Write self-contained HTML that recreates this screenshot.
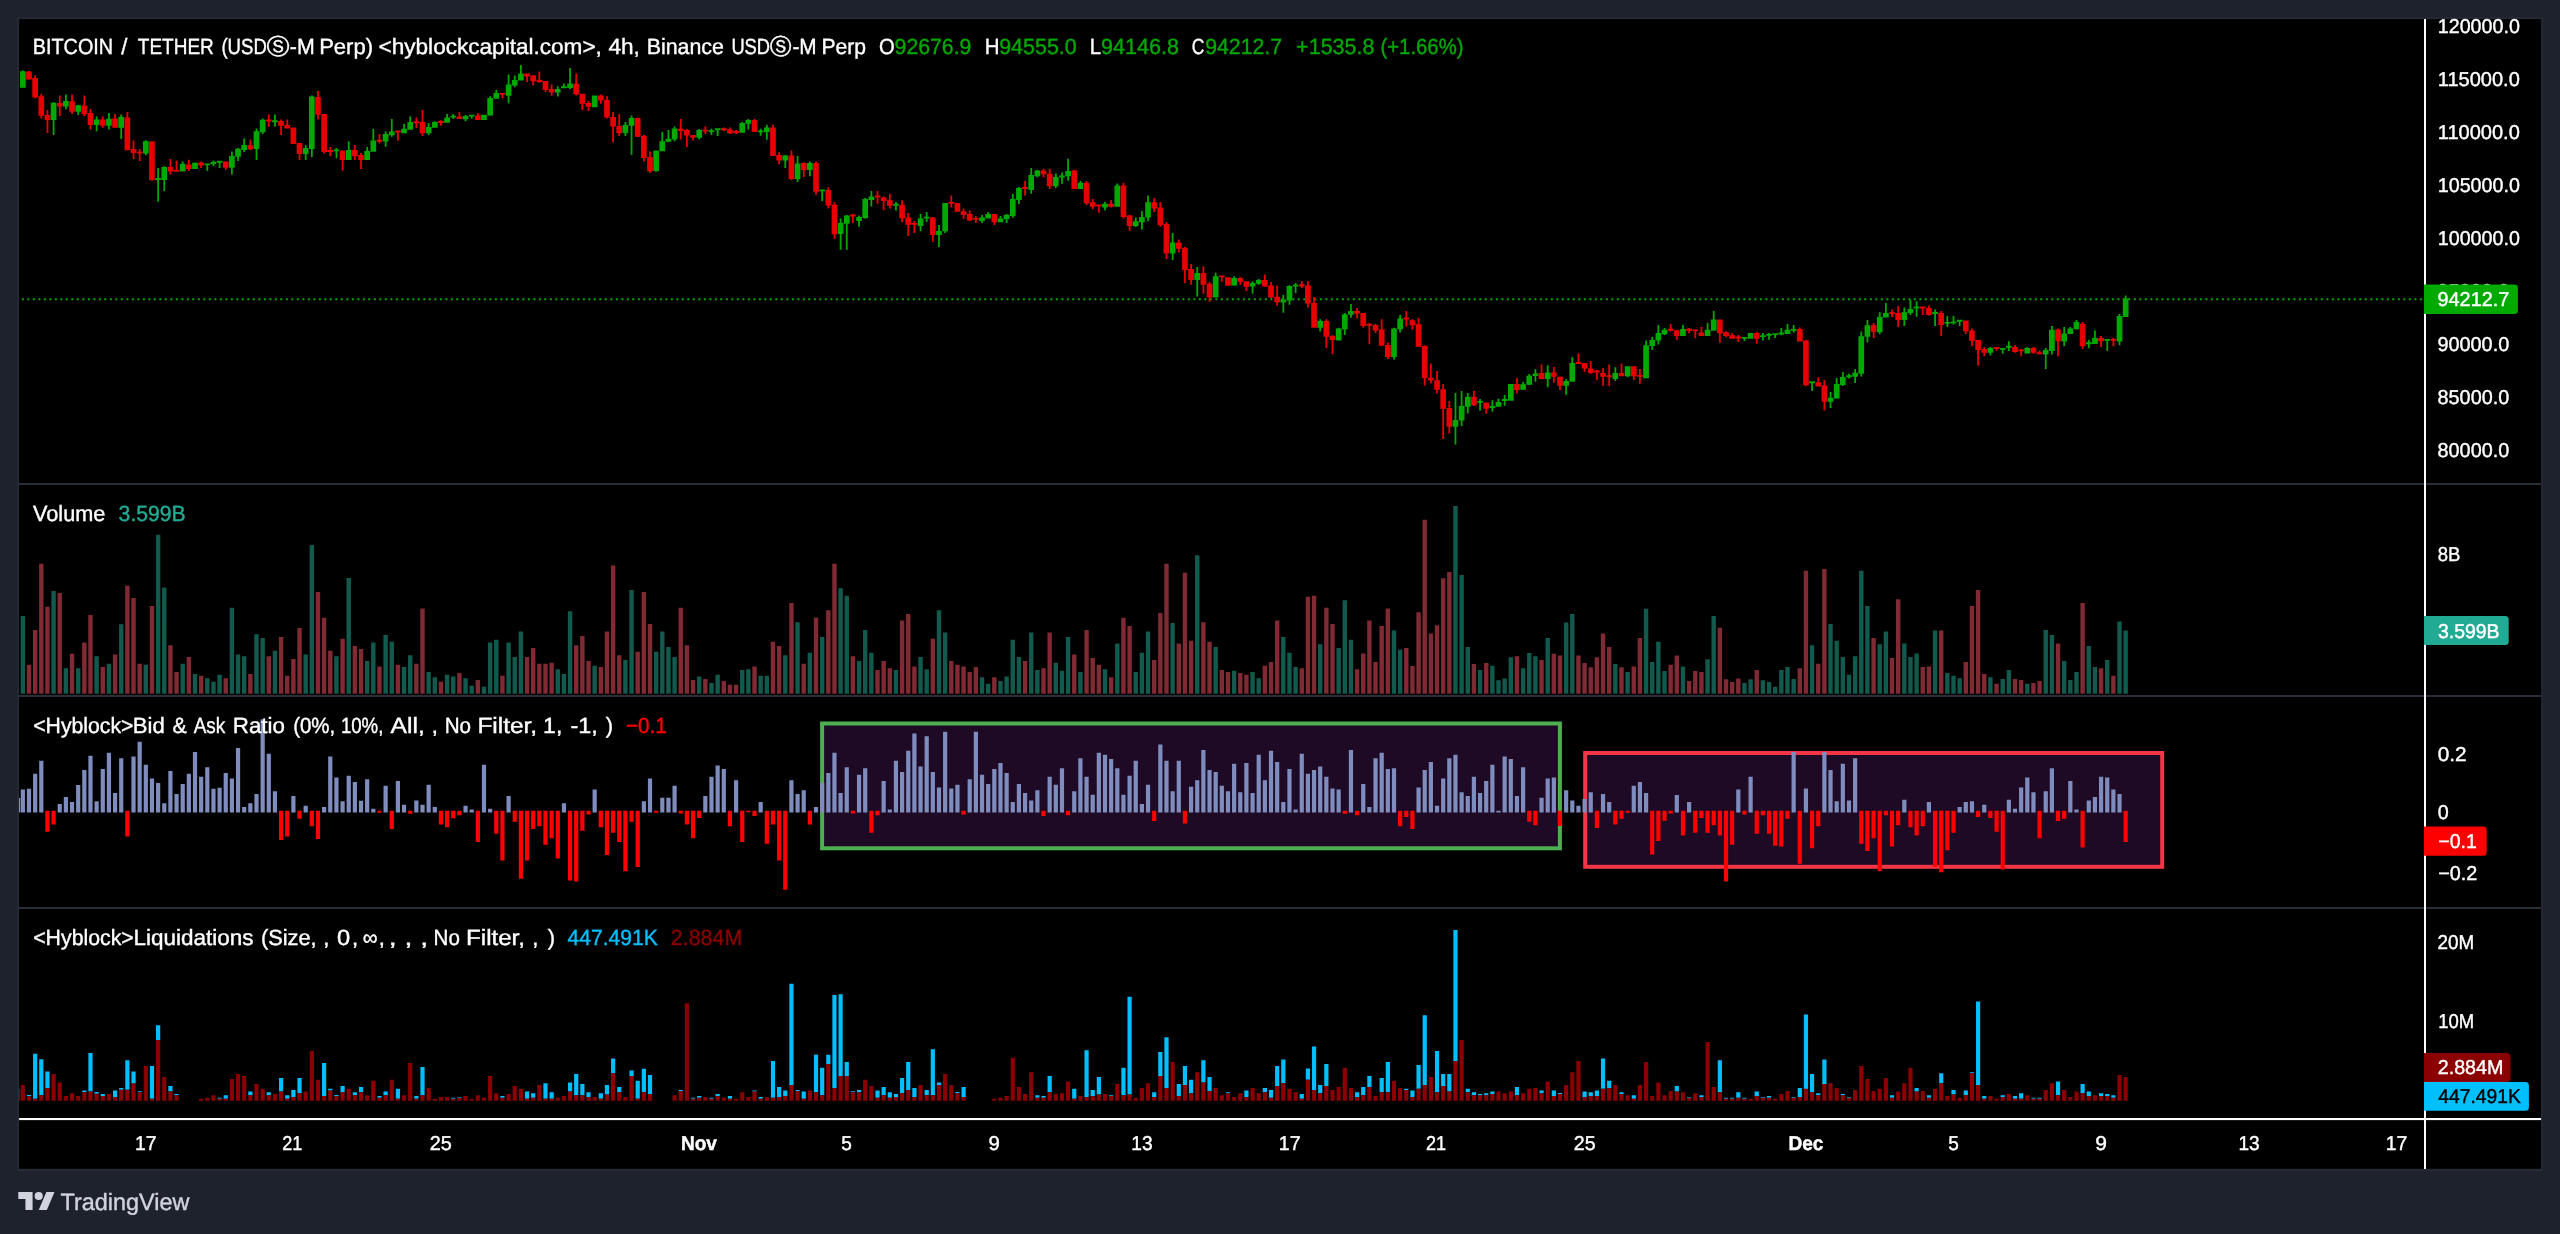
<!DOCTYPE html>
<html lang="en">
<head>
<meta charset="utf-8">
<title>BTCUSDT.P 4h - TradingView</title>
<style>
html,body{margin:0;padding:0;background:#1e222d;}
body{width:2560px;height:1234px;overflow:hidden;position:relative;}
svg{position:absolute;left:0;top:0;display:block;will-change:transform;}
text{font-family:'Liberation Sans','DejaVu Sans',sans-serif;white-space:pre;stroke-width:0.4px;text-rendering:geometricPrecision;}
</style>
</head>
<body>
<svg width="2560" height="1234" viewBox="0 0 2560 1234" shape-rendering="auto">
<rect x="17.3" y="17.3" width="2525.5" height="1153.7" fill="#262a36"/>
<rect x="19.1" y="19.1" width="2522" height="1149.7" fill="#000"/>
<rect x="822.1" y="723.5" width="737.8" height="124.8" fill="#1f0a26" stroke="#4caf50" stroke-width="4"/>
<rect x="1585.2" y="753" width="577" height="113.8" fill="#1f0a26" stroke="#f23645" stroke-width="4"/>
<line x1="21.85" y1="299.3" x2="2424" y2="299.3" stroke="#00a800" stroke-width="2" stroke-dasharray="2 3.5"/>
<g id="candles">
<path fill="#00a800" d="M21.95 70.62v17.12h1.8v-17.12zM52.69 102.25v32.75h1.8v-32.75zM64.99 94.38v14.75h1.8v-14.75zM77.29 104.75v10.25h1.8v-10.25zM95.73 116.62v14.62h1.8v-14.62zM108.03 113.12v16.5h1.8v-16.5zM120.33 114.62v24.38h1.8v-24.38zM144.92 140.25v15h1.8v-15zM157.22 168.12v33.75h1.8v-33.75zM163.37 166.25v24.75h1.8v-24.75zM181.81 161.62v10h1.8v-10zM194.11 162.5v6.5h1.8v-6.5zM206.41 163.5v7.5h1.8v-7.5zM212.56 160.62v5.62h1.8v-5.62zM218.71 161v7.12h1.8v-7.12zM231 151.5v23.12h1.8v-23.12zM237.15 147.88v13.12h1.8v-13.12zM243.3 138.5v13.38h1.8v-13.38zM255.6 128.5v31.5h1.8v-31.5zM261.75 118.38v15.62h1.8v-15.62zM274.04 114.62v12.25h1.8v-12.25zM304.79 145.25v14.75h1.8v-14.75zM310.93 95.38v61.5h1.8v-61.5zM335.53 147.88v10.25h1.8v-10.25zM347.83 141.25v18.75h1.8v-18.75zM366.27 146.88v13.12h1.8v-13.12zM372.42 129.12v22.75h1.8v-22.75zM384.72 131.25v15.62h1.8v-15.62zM390.87 119.12v17.75h1.8v-17.75zM403.16 124v9.12h1.8v-9.12zM409.31 116.62v13h1.8v-13zM427.76 123.12v11.88h1.8v-11.88zM433.91 121.25v6.5h1.8v-6.5zM446.2 114v8.75h1.8v-8.75zM452.35 114v4.75h1.8v-4.75zM464.65 115v6.25h1.8v-6.25zM470.8 115v3.5h1.8v-3.5zM483.1 114.75v5.25h1.8v-5.25zM489.24 96.25v19.38h1.8v-19.38zM495.39 90v8.75h1.8v-8.75zM507.69 74.38v28.75h1.8v-28.75zM513.84 75.38v11.75h1.8v-11.75zM519.99 65v15.62h1.8v-15.62zM556.88 86.25v10.25h1.8v-10.25zM563.03 83.5v4.62h1.8v-4.62zM569.18 67.88v21.12h1.8v-21.12zM593.77 95.62v11.62h1.8v-11.62zM624.51 122.12v13.88h1.8v-13.88zM630.66 115.62v39.38h1.8v-39.38zM655.26 150.62v21.25h1.8v-21.25zM661.4 131.88v19.38h1.8v-19.38zM667.55 130v11.88h1.8v-11.88zM673.7 126.5v14.75h1.8v-14.75zM698.3 129v10.38h1.8v-10.38zM710.59 128.75v6.25h1.8v-6.25zM716.74 128.5v7.38h1.8v-7.38zM741.34 121.88v10.88h1.8v-10.88zM747.48 119v10.38h1.8v-10.38zM759.78 128.75v7.12h1.8v-7.12zM765.93 124.75v14.88h1.8v-14.88zM784.38 155v12.88h1.8v-12.88zM796.67 156v25.88h1.8v-25.88zM808.97 161.5v14.75h1.8v-14.75zM821.27 189.38v11.62h1.8v-11.62zM839.71 218.5v31.25h1.8v-31.25zM845.86 215v34.75h1.8v-34.75zM858.16 215.62v11.25h1.8v-11.25zM864.31 198.12v20.62h1.8v-20.62zM870.46 191v15.62h1.8v-15.62zM895.05 201.88v8.5h1.8v-8.5zM919.65 214v17.25h1.8v-17.25zM925.79 212.12v10h1.8v-10zM938.09 225v21.88h1.8v-21.88zM944.24 203.12v30h1.8v-30zM981.13 215v8.12h1.8v-8.12zM987.28 212.12v6.38h1.8v-6.38zM999.58 216v6.25h1.8v-6.25zM1005.73 214v9.12h1.8v-9.12zM1011.87 193.75v24.12h1.8v-24.12zM1018.02 187.12v16.88h1.8v-16.88zM1030.32 167.88v25.88h1.8v-25.88zM1036.47 169.75v7.5h1.8v-7.5zM1054.91 173.5v14.62h1.8v-14.62zM1061.06 172.5v11.25h1.8v-11.25zM1067.21 158.75v22.12h1.8v-22.12zM1079.51 181v8h1.8v-8zM1104.1 201.88v8.38h1.8v-8.38zM1116.4 183.5v23.12h1.8v-23.12zM1134.85 217.5v9.38h1.8v-9.38zM1141 211v18.62h1.8v-18.62zM1147.14 195.62v25.62h1.8v-25.62zM1171.74 233.12v26.88h1.8v-26.88zM1196.33 267.12v29.38h1.8v-29.38zM1214.78 272.75v24.75h1.8v-24.75zM1233.22 276.25v9.38h1.8v-9.38zM1251.67 281.25v12.5h1.8v-12.5zM1257.82 279.12v5.62h1.8v-5.62zM1282.41 294.88v17.75h1.8v-17.75zM1288.56 285.25v19.62h1.8v-19.62zM1294.71 283v10h1.8v-10zM1319.3 319.25v12.25h1.8v-12.25zM1337.75 327.75v12.75h1.8v-12.75zM1343.9 313v21.88h1.8v-21.88zM1350.05 304v13.75h1.8v-13.75zM1393.09 327.75v32.12h1.8v-32.12zM1399.24 314.88v17.5h1.8v-17.5zM1454.57 393v51.5h1.8v-51.5zM1460.72 391.12v34.88h1.8v-34.88zM1466.87 393v20.62h1.8v-20.62zM1479.17 399v11.5h1.8v-11.5zM1491.47 400.25v11.5h1.8v-11.5zM1497.61 398.62v8.12h1.8v-8.12zM1503.76 394.88v10.88h1.8v-10.88zM1509.91 384v16.75h1.8v-16.75zM1522.21 382v7.88h1.8v-7.88zM1528.36 374v10.88h1.8v-10.88zM1534.51 369.25v12.5h1.8v-12.5zM1546.8 365.25v22.12h1.8v-22.12zM1565.25 379.25v15.62h1.8v-15.62zM1571.4 357.12v24.62h1.8v-24.62zM1614.44 367.25v13.75h1.8v-13.75zM1626.73 366.25v11h1.8v-11zM1645.18 340.62v37.5h1.8v-37.5zM1651.33 336.88v13.12h1.8v-13.12zM1657.48 325v19.38h1.8v-19.38zM1663.63 328.12v6.88h1.8v-6.88zM1682.07 325v11h1.8v-11zM1706.67 323.12v12.88h1.8v-12.88zM1712.81 311v19.62h1.8v-19.62zM1743.56 337.25v3.75h1.8v-3.75zM1749.71 333.12v5.62h1.8v-5.62zM1762 333.12v7.5h1.8v-7.5zM1768.15 333.12v6.62h1.8v-6.62zM1774.3 333.5v4.62h1.8v-4.62zM1780.45 327.88v7.38h1.8v-7.38zM1786.6 324v10h1.8v-10zM1792.75 325v7.5h1.8v-7.5zM1811.19 381.25v9.75h1.8v-9.75zM1829.64 391.88v16h1.8v-16zM1835.79 378.12v20.38h1.8v-20.38zM1841.94 371.88v14.12h1.8v-14.12zM1848.08 373.75v4.75h1.8v-4.75zM1854.23 369v14.12h1.8v-14.12zM1860.38 331.5v45h1.8v-45zM1866.53 320v22.5h1.8v-22.5zM1878.83 312.25v22.12h1.8v-22.12zM1884.98 303.12v14.38h1.8v-14.38zM1903.42 307.5v18.5h1.8v-18.5zM1909.57 300v15h1.8v-15zM1915.72 301.25v15.62h1.8v-15.62zM1934.16 309.38v16.62h1.8v-16.62zM1946.46 316v10.88h1.8v-10.88zM1952.61 316v8.38h1.8v-8.38zM1958.76 320v6h1.8v-6zM1989.5 346.88v8.38h1.8v-8.38zM2001.8 348.12v5.62h1.8v-5.62zM2007.95 341.25v9.75h1.8v-9.75zM2026.39 346.88v6.62h1.8v-6.62zM2044.84 348.12v20.88h1.8v-20.88zM2050.99 326v28.38h1.8v-28.38zM2063.29 326.88v19.38h1.8v-19.38zM2069.43 326.88v7.12h1.8v-7.12zM2075.58 320v9.38h1.8v-9.38zM2087.88 339.75v8.38h1.8v-8.38zM2094.03 330.62v13.38h1.8v-13.38zM2106.33 339v12h1.8v-12zM2118.62 314v31.25h1.8v-31.25zM2124.77 295.62v21.25h1.8v-21.25zM20 71.25v16.5h5.7v-16.5zM50.74 102.75v17.25h5.7v-17.25zM63.04 101v5.5h5.7v-5.5zM75.34 105.25v6.62h5.7v-6.62zM93.78 119.38v5.62h5.7v-5.62zM106.08 118.75v6.88h5.7v-6.88zM118.38 116.88v10.88h5.7v-10.88zM142.97 141.25v12.25h5.7v-12.25zM155.27 177.88v2.12h5.7v-2.12zM161.42 166.88v13.12h5.7v-13.12zM179.86 164v7.62h5.7v-7.62zM192.16 162.75v6.25h5.7v-6.25zM204.46 163.47v1.8h5.7v-1.8zM210.61 162.1v1.8h5.7v-1.8zM216.76 160.85v1.8h5.7v-1.8zM229.05 156v11.75h5.7v-11.75zM235.2 148.75v8.12h5.7v-8.12zM241.35 145v5h5.7v-5zM253.65 131.25v17.75h5.7v-17.75zM259.8 119.75v12.5h5.7v-12.5zM272.09 120.35v1.8h5.7v-1.8zM302.84 148.12v5.88h5.7v-5.88zM308.98 96.5v52.5h5.7v-52.5zM333.58 149.38v1.88h5.7v-1.88zM345.88 150v10h5.7v-10zM364.32 151v9h5.7v-9zM370.47 140.62v11.25h5.7v-11.25zM382.77 134v7.62h5.7v-7.62zM388.92 131.5v3.75h5.7v-3.75zM401.21 128.75v4.38h5.7v-4.38zM407.36 121.88v7.75h5.7v-7.75zM425.81 126.88v6.25h5.7v-6.25zM431.96 121.88v5.88h5.7v-5.88zM444.25 117.5v5.25h5.7v-5.25zM450.4 115.79v1.8h5.7v-1.8zM462.7 115.88v3.25h5.7v-3.25zM468.85 114.72v1.8h5.7v-1.8zM481.14 114.75v5.25h5.7v-5.25zM487.29 98.12v17.5h5.7v-17.5zM493.44 93.12v5.62h5.7v-5.62zM505.74 84.38v11.25h5.7v-11.25zM511.89 80v5.38h5.7v-5.38zM518.04 73.5v7.12h5.7v-7.12zM554.93 89v3.5h5.7v-3.5zM561.08 86.25v1.88h5.7v-1.88zM567.23 83.5v4.62h5.7v-4.62zM591.82 95.62v11.62h5.7v-11.62zM622.56 125v8.12h5.7v-8.12zM628.71 118.12v7.75h5.7v-7.75zM653.31 150.62v20.38h5.7v-20.38zM659.45 141.25v10h5.7v-10zM665.6 138.75v3.12h5.7v-3.12zM671.75 128.5v10.88h5.7v-10.88zM696.35 130v7.75h5.7v-7.75zM708.64 130.22v1.8h5.7v-1.8zM714.79 128.35v1.8h5.7v-1.8zM739.39 123.12v9.62h5.7v-9.62zM745.53 120v3.75h5.7v-3.75zM757.83 130.38v1.88h5.7v-1.88zM763.98 127.5v4.38h5.7v-4.38zM782.43 155.62v5h5.7v-5zM794.72 163.5v15.62h5.7v-15.62zM807.02 163.12v6.88h5.7v-6.88zM819.32 189.38v1.88h5.7v-1.88zM837.76 223.12v11h5.7v-11zM843.91 215.62v8.12h5.7v-8.12zM856.21 216.88v4h5.7v-4zM862.36 199v19.12h5.7v-19.12zM868.51 196.62v3.38h5.7v-3.38zM893.1 203.75v1.88h5.7v-1.88zM917.7 218.5v7.38h5.7v-7.38zM923.84 216.79v1.8h5.7v-1.8zM936.14 231v4h5.7v-4zM942.29 203.12v28.12h5.7v-28.12zM979.18 217.5v3.5h5.7v-3.5zM985.33 214v4.5h5.7v-4.5zM997.63 218.5v3.75h5.7v-3.75zM1003.78 214.75v4.38h5.7v-4.38zM1009.92 199v17h5.7v-17zM1016.07 187.88v12.12h5.7v-12.12zM1028.37 175v15h5.7v-15zM1034.52 170.62v5.62h5.7v-5.62zM1052.96 176.88v9.38h5.7v-9.38zM1059.11 175.38v2.12h5.7v-2.12zM1065.26 171v5.25h5.7v-5.25zM1077.56 182.75v6.25h5.7v-6.25zM1102.15 203.75v3.75h5.7v-3.75zM1114.45 185.38v21.25h5.7v-21.25zM1132.9 221.25v4.75h5.7v-4.75zM1139.05 216.88v5.38h5.7v-5.38zM1145.19 202.25v15.25h5.7v-15.25zM1169.79 242.5v10.88h5.7v-10.88zM1194.38 273.12v6.88h5.7v-6.88zM1212.83 276.25v21.25h5.7v-21.25zM1231.27 278.12v7.5h5.7v-7.5zM1249.72 283.12v3.5h5.7v-3.5zM1255.87 280v3.75h5.7v-3.75zM1280.46 299.5v2.88h5.7v-2.88zM1286.61 286.12v14.38h5.7v-14.38zM1292.76 284.79v1.8h5.7v-1.8zM1317.35 321.12v6.62h5.7v-6.62zM1335.8 328.62v11.88h5.7v-11.88zM1341.95 314.25v15h5.7v-15zM1348.1 311.12v3.75h5.7v-3.75zM1391.14 328.62v28.38h5.7v-28.38zM1397.29 318.62v10.62h5.7v-10.62zM1452.62 419.88v6.88h5.7v-6.88zM1458.77 406.12v14.38h5.7v-14.38zM1464.92 396.75v10h5.7v-10zM1477.22 401.04v1.8h5.7v-1.8zM1489.52 406.12v1.88h5.7v-1.88zM1495.66 402.12v4.62h5.7v-4.62zM1501.81 399.1v1.8h5.7v-1.8zM1507.96 384v16.75h5.7v-16.75zM1520.26 384.25v5.62h5.7v-5.62zM1526.41 375.75v9.12h5.7v-9.12zM1532.56 373.62v2.5h5.7v-2.5zM1544.85 372.38v6.62h5.7v-6.62zM1563.3 381.12v4.62h5.7v-4.62zM1569.45 363v18.75h5.7v-18.75zM1612.49 373.12v5.88h5.7v-5.88zM1624.78 366.25v10h5.7v-10zM1643.23 345.25v32.88h5.7v-32.88zM1649.38 340v5.88h5.7v-5.88zM1655.53 333.12v7.5h5.7v-7.5zM1661.68 329.75v4.62h5.7v-4.62zM1680.12 329.12v6.88h5.7v-6.88zM1704.72 329.75v6.25h5.7v-6.25zM1710.87 319.38v11.25h5.7v-11.25zM1741.61 336.98v1.8h5.7v-1.8zM1747.76 333.12v5.62h5.7v-5.62zM1760.05 335.16v1.8h5.7v-1.8zM1766.2 333.91v1.8h5.7v-1.8zM1772.35 333.23v1.8h5.7v-1.8zM1778.5 332.5v1.88h5.7v-1.88zM1784.65 329.75v4.25h5.7v-4.25zM1790.8 328.98v1.8h5.7v-1.8zM1809.24 381.25v1.88h5.7v-1.88zM1827.69 397.75v4.12h5.7v-4.12zM1833.84 384v14.5h5.7v-14.5zM1839.99 376.88v8.12h5.7v-8.12zM1846.13 375.25v2h5.7v-2zM1852.28 372.75v4.12h5.7v-4.12zM1858.43 336.25v37.5h5.7v-37.5zM1864.58 325.25v11.62h5.7v-11.62zM1876.88 316.88v15.38h5.7v-15.38zM1883.03 313.12v4.38h5.7v-4.38zM1901.47 312.25v7.75h5.7v-7.75zM1907.62 309v4.12h5.7v-4.12zM1913.77 306.6v1.8h5.7v-1.8zM1932.21 312.1v1.8h5.7v-1.8zM1944.51 322.04v1.8h5.7v-1.8zM1950.66 321.41v1.8h5.7v-1.8zM1956.81 319.85v1.8h5.7v-1.8zM1987.55 348.12v4.62h5.7v-4.62zM1999.85 348.04v1.8h5.7v-1.8zM2006 345.85v1.8h5.7v-1.8zM2024.44 348.12v5.38h5.7v-5.38zM2042.89 350v4.38h5.7v-4.38zM2049.04 329.75v21.25h5.7v-21.25zM2061.34 333.5v8h5.7v-8zM2067.48 328.5v5.5h5.7v-5.5zM2073.63 322.12v7.25h5.7v-7.25zM2085.93 342.35v1.8h5.7v-1.8zM2092.08 338.12v5.88h5.7v-5.88zM2104.38 338.91v1.8h5.7v-1.8zM2116.67 316v25.5h5.7v-25.5zM2122.82 298.38v18.5h5.7v-18.5z"/>
<path fill="#e60000" d="M28.1 71v8.75h1.8v-8.75zM34.25 75.25v22.88h1.8v-22.88zM40.4 93.75v24.75h1.8v-24.75zM46.54 110v23.12h1.8v-23.12zM58.84 95.38v20.5h1.8v-20.5zM71.14 94.38v19.62h1.8v-19.62zM83.44 95.38v20.5h1.8v-20.5zM89.58 109.12v20.5h1.8v-20.5zM101.88 116.62v11.25h1.8v-11.25zM114.18 114v13.75h1.8v-13.75zM126.48 112.12v38.5h1.8v-38.5zM132.62 140.62v18.38h1.8v-18.38zM138.77 149v12h1.8v-12zM151.07 141.25v39.62h1.8v-39.62zM169.52 159v15.62h1.8v-15.62zM175.66 160.62v11h1.8v-11zM187.96 159.75v11.25h1.8v-11.25zM200.26 161.5v6.62h1.8v-6.62zM224.85 161.5v8.5h1.8v-8.5zM249.45 139.62v10.38h1.8v-10.38zM267.89 114.62v12.25h1.8v-12.25zM280.19 119.38v15.62h1.8v-15.62zM286.34 119.38v9.12h1.8v-9.12zM292.49 127.5v16.5h1.8v-16.5zM298.64 143.12v16.88h1.8v-16.88zM317.08 91v28.38h1.8v-28.38zM323.23 114v39.5h1.8v-39.5zM329.38 147.12v9.12h1.8v-9.12zM341.68 150.62v20.25h1.8v-20.25zM353.97 145v15h1.8v-15zM360.12 153.12v15.88h1.8v-15.88zM378.57 134v9.5h1.8v-9.5zM397.01 130.62v10.25h1.8v-10.25zM415.46 117.5v10.38h1.8v-10.38zM421.61 110v26h1.8v-26zM440.05 120.25v5.62h1.8v-5.62zM458.5 112.12v7h1.8v-7zM476.95 113.12v6.88h1.8v-6.88zM501.54 93.12v5h1.8v-5zM526.14 73.5v8.38h1.8v-8.38zM532.28 75v10.38h1.8v-10.38zM538.43 71.5v11.25h1.8v-11.25zM544.58 81v10.88h1.8v-10.88zM550.73 84.38v11.25h1.8v-11.25zM575.32 73.5v22.12h1.8v-22.12zM581.47 93.75v16.25h1.8v-16.25zM587.62 101v10h1.8v-10zM599.92 94.38v9.38h1.8v-9.38zM606.07 96.25v22.25h1.8v-22.25zM612.22 112.12v30.38h1.8v-30.38zM618.36 114v22h1.8v-22zM636.81 117.5v19.38h1.8v-19.38zM642.96 135v26.62h1.8v-26.62zM649.11 151.62v21.12h1.8v-21.12zM679.85 119v20.38h1.8v-20.38zM686 129v17.88h1.8v-17.88zM692.15 135v5.38h1.8v-5.38zM704.44 126.5v7.5h1.8v-7.5zM722.89 127.5v3.5h1.8v-3.5zM729.04 127.5v6.5h1.8v-6.5zM735.19 130v4h1.8v-4zM753.63 119v12.88h1.8v-12.88zM772.08 124.75v31.12h1.8v-31.12zM778.23 152.25v12.12h1.8v-12.12zM790.53 150.62v29.38h1.8v-29.38zM802.82 162.5v14.62h1.8v-14.62zM815.12 161.5v33.25h1.8v-33.25zM827.42 187.25v21.25h1.8v-21.25zM833.57 202.25v36.5h1.8v-36.5zM852.01 214v8.88h1.8v-8.88zM876.61 191v12.75h1.8v-12.75zM882.75 196.62v13.75h1.8v-13.75zM888.9 193.75v14.75h1.8v-14.75zM901.2 200.25v21.88h1.8v-21.88zM907.35 213.12v22.88h1.8v-22.88zM913.5 221v12.12h1.8v-12.12zM931.94 216.88v24.75h1.8v-24.75zM950.39 195.62v11.88h1.8v-11.88zM956.54 203.12v8.75h1.8v-8.75zM962.69 208.5v10.25h1.8v-10.25zM968.83 210.38v10.88h1.8v-10.88zM974.98 216v7.12h1.8v-7.12zM993.43 214v11h1.8v-11zM1024.17 181v14.62h1.8v-14.62zM1042.62 168.75v8.5h1.8v-8.5zM1048.77 168.75v20.25h1.8v-20.25zM1073.36 169.75v19.25h1.8v-19.25zM1085.66 181v24h1.8v-24zM1091.81 199.12v10.25h1.8v-10.25zM1097.95 204.62v8.25h1.8v-8.25zM1110.25 200v7.5h1.8v-7.5zM1122.55 182.75v35.75h1.8v-35.75zM1128.7 214.75v15.88h1.8v-15.88zM1153.29 198.12v14h1.8v-14zM1159.44 202.12v24.75h1.8v-24.75zM1165.59 222.12v36.88h1.8v-36.88zM1177.89 239.62v12.88h1.8v-12.88zM1184.04 246.88v36h1.8v-36zM1190.18 264.12v20.62h1.8v-20.62zM1202.48 266.25v27.5h1.8v-27.5zM1208.63 281.88v20h1.8v-20zM1220.93 275.62v6.25h1.8v-6.25zM1227.08 277.25v8.38h1.8v-8.38zM1239.37 277.25v7.5h1.8v-7.5zM1245.52 281.25v9.75h1.8v-9.75zM1263.97 274.38v12.25h1.8v-12.25zM1270.12 282v16h1.8v-16zM1276.26 285.5v20.25h1.8v-20.25zM1300.86 281.12v6.88h1.8v-6.88zM1307.01 281.12v26.5h1.8v-26.5zM1313.16 297v30.75h1.8v-30.75zM1325.45 319.25v28.75h1.8v-28.75zM1331.6 334.88v19.38h1.8v-19.38zM1356.2 308v10.62h1.8v-10.62zM1362.34 313v14.75h1.8v-14.75zM1368.49 323v21.25h1.8v-21.25zM1374.64 324v9h1.8v-9zM1380.79 319.25v26.62h1.8v-26.62zM1386.94 342.38v16.62h1.8v-16.62zM1405.38 311.12v15.62h1.8v-15.62zM1411.53 319.25v10.38h1.8v-10.38zM1417.68 317.75v29h1.8v-29zM1423.83 345.25v40.25h1.8v-40.25zM1429.98 363.62v20h1.8v-20zM1436.13 371.12v22.5h1.8v-22.5zM1442.28 384v55h1.8v-55zM1448.43 401.12v32.38h1.8v-32.38zM1473.02 391.12v15h1.8v-15zM1485.32 402.38v11.25h1.8v-11.25zM1516.06 378v15.62h1.8v-15.62zM1540.65 364.5v14.5h1.8v-14.5zM1552.95 367.12v15.62h1.8v-15.62zM1559.1 376.5v13.38h1.8v-13.38zM1577.55 353.25v10.38h1.8v-10.38zM1583.69 363v8.75h1.8v-8.75zM1589.84 361v12.75h1.8v-12.75zM1595.99 370v10h1.8v-10zM1602.14 368.12v17.88h1.8v-17.88zM1608.29 364.38v21.62h1.8v-21.62zM1620.59 363.5v12.75h1.8v-12.75zM1632.88 366.25v13.75h1.8v-13.75zM1639.03 369v14.75h1.8v-14.75zM1669.77 324v7.5h1.8v-7.5zM1675.92 329.75v10.25h1.8v-10.25zM1688.22 327.88v5.25h1.8v-5.25zM1694.37 329.75v8.38h1.8v-8.38zM1700.52 326.88v9.12h1.8v-9.12zM1718.96 319.38v23.38h1.8v-23.38zM1725.11 331.25v6h1.8v-6zM1731.26 333.12v5.62h1.8v-5.62zM1737.41 335v6.88h1.8v-6.88zM1755.86 332.25v11.5h1.8v-11.5zM1798.9 327.5v14h1.8v-14zM1805.04 339.75v46.25h1.8v-46.25zM1817.34 377.25v9.25h1.8v-9.25zM1823.49 380v30.62h1.8v-30.62zM1872.68 323.12v15h1.8v-15zM1891.12 309.38v7.5h1.8v-7.5zM1897.27 306v21.12h1.8v-21.12zM1921.87 306.88v8.12h1.8v-8.12zM1928.02 305.62v10h1.8v-10zM1940.31 311v25h1.8v-25zM1964.91 320.38v13.62h1.8v-13.62zM1971.06 328.5v17.75h1.8v-17.75zM1977.2 340v25.62h1.8v-25.62zM1983.35 347.25v9h1.8v-9zM1995.65 347.25v3.38h1.8v-3.38zM2014.1 345v7.75h1.8v-7.75zM2020.24 349v7.25h1.8v-7.25zM2032.54 346.88v6.88h1.8v-6.88zM2038.69 350.62v3.75h1.8v-3.75zM2057.14 328.5v27.75h1.8v-27.75zM2081.73 322.12v26.88h1.8v-26.88zM2100.18 336v10.88h1.8v-10.88zM2112.47 337.75v8.5h1.8v-8.5zM26.15 71.5v7.88h5.7v-7.88zM32.3 78.12v19.38h5.7v-19.38zM38.45 96.25v19.38h5.7v-19.38zM44.59 115v5h5.7v-5zM56.89 103.12v3.38h5.7v-3.38zM69.19 101.25v10.62h5.7v-10.62zM81.49 105.62v8.75h5.7v-8.75zM87.63 113.12v11.88h5.7v-11.88zM99.93 119.38v6.25h5.7v-6.25zM112.23 118.5v9.25h5.7v-9.25zM124.53 117.5v32.5h5.7v-32.5zM130.67 149v4.12h5.7v-4.12zM136.82 151.79v1.8h5.7v-1.8zM149.12 141.25v38.75h5.7v-38.75zM167.57 167.12v4.5h5.7v-4.5zM173.72 169.91v1.8h5.7v-1.8zM186.01 164.38v4.62h5.7v-4.62zM198.31 162.5v3.12h5.7v-3.12zM222.9 161.5v6.25h5.7v-6.25zM247.5 145.25v4.12h5.7v-4.12zM265.94 119.6v1.8h5.7v-1.8zM278.24 120.88v4.75h5.7v-4.75zM284.39 125v3.5h5.7v-3.5zM290.54 127.5v16.5h5.7v-16.5zM296.69 143.12v10.88h5.7v-10.88zM315.13 96.88v17.75h5.7v-17.75zM321.28 114v37.88h5.7v-37.88zM327.43 150v1.88h5.7v-1.88zM339.73 150.62v9.38h5.7v-9.38zM352.02 150v6.25h5.7v-6.25zM358.17 155v5h5.7v-5zM376.62 139.75v2.12h5.7v-2.12zM395.06 130.62v1.88h5.7v-1.88zM413.51 121.25v1.88h5.7v-1.88zM419.66 121.88v11.25h5.7v-11.25zM438.1 121.1v1.8h5.7v-1.8zM456.55 116.62v2.5h5.7v-2.5zM475 115.62v4.38h5.7v-4.38zM499.59 93.04v1.8h5.7v-1.8zM524.19 73.5v3.12h5.7v-3.12zM530.33 75.62v5.62h5.7v-5.62zM536.48 80v1.88h5.7v-1.88zM542.63 81v9h5.7v-9zM548.78 89v3.5h5.7v-3.5zM573.37 83.75v10.62h5.7v-10.62zM579.52 93.75v10h5.7v-10zM585.67 103.12v3.75h5.7v-3.75zM597.97 95.62v5h5.7v-5zM604.12 100v17.5h5.7v-17.5zM610.27 116.88v9.62h5.7v-9.62zM616.41 125.88v7.25h5.7v-7.25zM634.86 118.12v18.75h5.7v-18.75zM641.01 136v22.12h5.7v-22.12zM647.16 157.12v14.12h5.7v-14.12zM677.9 128.75v2.25h5.7v-2.25zM684.05 130v5.62h5.7v-5.62zM690.2 135v2.75h5.7v-2.75zM702.49 129.72v1.8h5.7v-1.8zM720.94 128.35v1.8h5.7v-1.8zM727.09 129.38v3.75h5.7v-3.75zM733.24 131.1v1.8h5.7v-1.8zM751.68 120v11.88h5.7v-11.88zM770.13 127.5v28.38h5.7v-28.38zM776.28 155v5.62h5.7v-5.62zM788.58 155.62v23.5h5.7v-23.5zM800.87 163.12v6.88h5.7v-6.88zM813.17 163.12v28.75h5.7v-28.75zM825.47 190v15.62h5.7v-15.62zM831.62 204.75v29.38h5.7v-29.38zM850.06 214.6v1.8h5.7v-1.8zM874.66 195.62v1.88h5.7v-1.88zM880.8 197.5v3.5h5.7v-3.5zM886.95 200.25v5.38h5.7v-5.38zM899.25 204.75v13.38h5.7v-13.38zM905.4 217.5v7.25h5.7v-7.25zM911.55 223.04v1.8h5.7v-1.8zM929.99 217.5v17.5h5.7v-17.5zM948.44 201.88v1.88h5.7v-1.88zM954.59 203.12v8.75h5.7v-8.75zM960.74 211.25v3.75h5.7v-3.75zM966.88 214v6.62h5.7v-6.62zM973.03 218.04v1.8h5.7v-1.8zM991.48 214v8.25h5.7v-8.25zM1022.22 187.12v1.88h5.7v-1.88zM1040.67 170.62v3.75h5.7v-3.75zM1046.82 173.75v12.5h5.7v-12.5zM1071.41 170.62v18.38h5.7v-18.38zM1083.71 182.75v20.38h5.7v-20.38zM1089.86 202.25v4.38h5.7v-4.38zM1096.01 204.54v1.8h5.7v-1.8zM1108.3 203.75v2.88h5.7v-2.88zM1120.6 185.38v31.5h5.7v-31.5zM1126.75 215.62v10.38h5.7v-10.38zM1151.34 202.25v6.25h5.7v-6.25zM1157.49 207.5v17.5h5.7v-17.5zM1163.64 224v29.38h5.7v-29.38zM1175.94 242.5v6.25h5.7v-6.25zM1182.09 248.12v21.88h5.7v-21.88zM1188.23 269v11h5.7v-11zM1200.53 273.12v11.62h5.7v-11.62zM1206.68 283.75v13.75h5.7v-13.75zM1218.98 275.54v1.8h5.7v-1.8zM1225.13 277.25v8.38h5.7v-8.38zM1237.42 278.12v3.75h5.7v-3.75zM1243.57 281.25v5.38h5.7v-5.38zM1262.02 280v6.62h5.7v-6.62zM1268.17 285.5v11.88h5.7v-11.88zM1274.31 296.75v5.62h5.7v-5.62zM1298.91 284.25v2.25h5.7v-2.25zM1305.06 285.5v18.12h5.7v-18.12zM1311.21 303v24.75h5.7v-24.75zM1323.5 321.12v15.62h5.7v-15.62zM1329.65 336.12v4h5.7v-4zM1354.25 310.75v2.88h5.7v-2.88zM1360.39 313v12.88h5.7v-12.88zM1366.54 323.85v1.8h5.7v-1.8zM1372.69 324.88v5.62h5.7v-5.62zM1378.84 329.62v16.25h5.7v-16.25zM1384.99 344.88v12.12h5.7v-12.12zM1403.43 317.6v1.8h5.7v-1.8zM1409.58 320.25v5h5.7v-5zM1415.73 324.25v22.5h5.7v-22.5zM1421.88 345.88v32.12h5.7v-32.12zM1428.03 377.75v2.75h5.7v-2.75zM1434.18 380.25v9.62h5.7v-9.62zM1440.33 389.25v19.38h5.7v-19.38zM1446.48 408v18.75h5.7v-18.75zM1471.07 396.75v8.5h5.7v-8.5zM1483.37 402.38v6.25h5.7v-6.25zM1514.11 384v5.88h5.7v-5.88zM1538.7 373v6h5.7v-6zM1551 372.38v4.38h5.7v-4.38zM1557.15 376.75v9h5.7v-9zM1575.6 362.1v1.8h5.7v-1.8zM1581.74 363v5.62h5.7v-5.62zM1587.89 368.5v4.62h5.7v-4.62zM1594.04 370.62v1.88h5.7v-1.88zM1600.19 373.12v3.75h5.7v-3.75zM1606.34 375.35v1.8h5.7v-1.8zM1618.64 373.12v3.12h5.7v-3.12zM1630.93 366.25v10h5.7v-10zM1637.08 374.91v1.8h5.7v-1.8zM1667.82 328.75v1.88h5.7v-1.88zM1673.97 330.25v5.75h5.7v-5.75zM1686.27 328.75v2.25h5.7v-2.25zM1692.42 329.48v1.8h5.7v-1.8zM1698.57 332.5v3.5h5.7v-3.5zM1717.01 319.38v13.75h5.7v-13.75zM1723.16 332.25v3.75h5.7v-3.75zM1729.31 335.25v3.5h5.7v-3.5zM1735.46 336.6v1.8h5.7v-1.8zM1753.91 333.12v5.62h5.7v-5.62zM1796.95 329v12.5h5.7v-12.5zM1803.09 340.62v44.62h5.7v-44.62zM1815.39 382.25v4.25h5.7v-4.25zM1821.54 385.62v16.25h5.7v-16.25zM1870.73 325.25v6.62h5.7v-6.62zM1889.17 312.23v1.8h5.7v-1.8zM1895.32 313.12v6.88h5.7v-6.88zM1919.92 306.6v1.8h5.7v-1.8zM1926.07 308.12v6.88h5.7v-6.88zM1938.36 313.12v11.88h5.7v-11.88zM1962.96 320.38v10.88h5.7v-10.88zM1969.11 330.38v10.25h5.7v-10.25zM1975.25 340v10h5.7v-10zM1981.4 349v3.75h5.7v-3.75zM1993.7 347.1v1.8h5.7v-1.8zM2012.15 346.88v5h5.7v-5zM2018.3 349.38v1.88h5.7v-1.88zM2030.59 348.12v4.62h5.7v-4.62zM2036.74 352.25v2.12h5.7v-2.12zM2055.19 329.38v11.88h5.7v-11.88zM2079.78 323.75v22.5h5.7v-22.5zM2098.23 338.12v3.12h5.7v-3.12zM2110.52 338.91v1.8h5.7v-1.8z"/>
</g>
<g id="volume">
<path fill="#115a4d" d="M20.65 615.91v77.89h4.4v-77.89zM51.39 590.96v102.84h4.4v-102.84zM63.69 668.13v25.67h4.4v-25.67zM75.99 668.13v25.67h4.4v-25.67zM94.43 656.3v37.5h4.4v-37.5zM106.73 663.8v30h4.4v-30zM119.03 624.13v69.67h4.4v-69.67zM143.62 664.66v29.14h4.4v-29.14zM155.92 534.85v158.95h4.4v-158.95zM162.07 587.5v106.3h4.4v-106.3zM180.51 663.8v30h4.4v-30zM192.81 673.9v19.9h4.4v-19.9zM205.11 678.22v15.58h4.4v-15.58zM211.26 681.83v11.97h4.4v-11.97zM217.41 674.76v19.04h4.4v-19.04zM229.7 607.83v85.97h4.4v-85.97zM235.85 654.42v39.38h4.4v-39.38zM242 656.3v37.5h4.4v-37.5zM254.3 634.23v59.57h4.4v-59.57zM260.45 637.98v55.82h4.4v-55.82zM272.74 650.82v42.98h4.4v-42.98zM303.49 654.42v39.38h4.4v-39.38zM309.63 544.95v148.85h4.4v-148.85zM334.23 656.15v37.65h4.4v-37.65zM346.53 578.12v115.68h4.4v-115.68zM364.97 660.91v32.89h4.4v-32.89zM371.12 642.6v51.2h4.4v-51.2zM383.42 635.1v58.7h4.4v-58.7zM389.57 641.87v51.93h4.4v-51.93zM401.86 667.12v26.68h4.4v-26.68zM408.01 655.29v38.51h4.4v-38.51zM426.46 671.88v21.92h4.4v-21.92zM432.61 677.36v16.44h4.4v-16.44zM444.9 674.76v19.04h4.4v-19.04zM451.05 676.49v17.31h4.4v-17.31zM463.35 678.22v15.58h4.4v-15.58zM469.5 685.87v7.93h4.4v-7.93zM481.8 686.73v7.07h4.4v-7.07zM487.94 642.6v51.2h4.4v-51.2zM494.09 639.86v53.94h4.4v-53.94zM506.39 642.6v51.2h4.4v-51.2zM512.54 657.02v36.78h4.4v-36.78zM518.69 631.49v62.31h4.4v-62.31zM555.58 669.14v24.66h4.4v-24.66zM561.73 673.9v19.9h4.4v-19.9zM567.88 611.15v82.65h4.4v-82.65zM592.47 665.67v28.13h4.4v-28.13zM623.21 659.9v33.9h4.4v-33.9zM629.36 590.09v103.71h4.4v-103.71zM653.96 651.68v42.12h4.4v-42.12zM660.1 631.49v62.31h4.4v-62.31zM666.25 647.07v46.73h4.4v-46.73zM672.4 657.02v36.78h4.4v-36.78zM697 676.49v17.31h4.4v-17.31zM709.29 682.98v10.82h4.4v-10.82zM715.44 674.76v19.04h4.4v-19.04zM740.04 670v23.8h4.4v-23.8zM746.18 669.14v24.66h4.4v-24.66zM758.48 675.63v18.17h4.4v-18.17zM764.63 675.63v18.17h4.4v-18.17zM783.08 655.29v38.51h4.4v-38.51zM795.37 622.26v71.54h4.4v-71.54zM807.67 652.69v41.11h4.4v-41.11zM819.97 636.97v56.83h4.4v-56.83zM838.41 588.22v105.58h4.4v-105.58zM844.56 595.72v98.08h4.4v-98.08zM856.86 660.91v32.89h4.4v-32.89zM863.01 629.9v63.9h4.4v-63.9zM869.16 652.69v41.11h4.4v-41.11zM893.75 670v23.8h4.4v-23.8zM918.35 657.02v36.78h4.4v-36.78zM924.49 669.14v24.66h4.4v-24.66zM936.79 610.29v83.51h4.4v-83.51zM942.94 632.5v61.3h4.4v-61.3zM979.83 677.36v16.44h4.4v-16.44zM985.98 683.85v9.95h4.4v-9.95zM998.28 680.96v12.84h4.4v-12.84zM1004.43 676.49v17.31h4.4v-17.31zM1010.57 639.86v53.94h4.4v-53.94zM1016.72 657.02v36.78h4.4v-36.78zM1029.02 632.5v61.3h4.4v-61.3zM1035.17 670v23.8h4.4v-23.8zM1053.61 662.79v31.01h4.4v-31.01zM1059.76 670.87v22.93h4.4v-22.93zM1065.91 636.97v56.83h4.4v-56.83zM1078.21 671.88v21.92h4.4v-21.92zM1102.8 669.14v24.66h4.4v-24.66zM1115.1 643.46v50.34h4.4v-50.34zM1133.55 671.88v21.92h4.4v-21.92zM1139.7 652.69v41.11h4.4v-41.11zM1145.84 631.49v62.31h4.4v-62.31zM1170.44 623.12v70.68h4.4v-70.68zM1195.03 555.19v138.61h4.4v-138.61zM1213.48 647.07v46.73h4.4v-46.73zM1231.92 670.87v22.93h4.4v-22.93zM1250.37 671.88v21.92h4.4v-21.92zM1256.52 678.22v15.58h4.4v-15.58zM1281.11 636.97v56.83h4.4v-56.83zM1287.26 652.69v41.11h4.4v-41.11zM1293.41 667.12v26.68h4.4v-26.68zM1318 644.33v49.47h4.4v-49.47zM1336.45 647.93v45.87h4.4v-45.87zM1342.6 600.19v93.61h4.4v-93.61zM1348.75 639.86v53.94h4.4v-53.94zM1391.79 630.62v63.18h4.4v-63.18zM1397.94 649.81v43.99h4.4v-43.99zM1453.27 505.94v187.86h4.4v-187.86zM1459.42 574.92v118.88h4.4v-118.88zM1465.57 647.12v46.68h4.4v-46.68zM1477.87 670.06v23.74h4.4v-23.74zM1490.17 665.72v28.08h4.4v-28.08zM1496.31 680.16v13.64h4.4v-13.64zM1502.46 678.4v15.4h4.4v-15.4zM1508.61 657.22v36.58h4.4v-36.58zM1520.91 668.13v25.67h4.4v-25.67zM1527.06 652.89v40.91h4.4v-40.91zM1533.21 656.26v37.54h4.4v-37.54zM1545.5 637.97v55.83h4.4v-55.83zM1563.95 622.41v71.39h4.4v-71.39zM1570.1 614.07v79.73h4.4v-79.73zM1613.14 663.96v29.84h4.4v-29.84zM1625.43 671.98v21.82h4.4v-21.82zM1643.88 608.77v85.03h4.4v-85.03zM1650.03 662.04v31.76h4.4v-31.76zM1656.18 641.82v51.98h4.4v-51.98zM1662.33 671.02v22.78h4.4v-22.78zM1680.77 666.53v27.27h4.4v-27.27zM1705.37 659.15v34.65h4.4v-34.65zM1711.51 615.99v77.81h4.4v-77.81zM1742.26 683.05v10.75h4.4v-10.75zM1748.41 679.2v14.6h4.4v-14.6zM1760.7 680.16v13.64h4.4v-13.64zM1766.85 682.09v11.71h4.4v-11.71zM1773 686.73v7.07h4.4v-7.07zM1779.15 670v23.8h4.4v-23.8zM1785.3 667.12v26.68h4.4v-26.68zM1791.45 679.09v14.71h4.4v-14.71zM1809.89 645.19v48.61h4.4v-48.61zM1828.34 623.99v69.81h4.4v-69.81zM1834.49 640.86v52.94h4.4v-52.94zM1840.64 657.02v36.78h4.4v-36.78zM1846.78 674.76v19.04h4.4v-19.04zM1852.93 656.15v37.65h4.4v-37.65zM1859.08 570.77v123.03h4.4v-123.03zM1865.23 605.96v87.84h4.4v-87.84zM1877.53 644.33v49.47h4.4v-49.47zM1883.68 631.49v62.31h4.4v-62.31zM1902.12 643.46v50.34h4.4v-50.34zM1908.27 657.02v36.78h4.4v-36.78zM1914.42 653.56v40.24h4.4v-40.24zM1932.86 630.62v63.18h4.4v-63.18zM1945.16 672.89v20.91h4.4v-20.91zM1951.31 675.63v18.17h4.4v-18.17zM1957.46 678.22v15.58h4.4v-15.58zM1988.2 677.36v16.44h4.4v-16.44zM2000.5 679.09v14.71h4.4v-14.71zM2006.65 670v23.8h4.4v-23.8zM2025.09 683.85v9.95h4.4v-9.95zM2043.54 629.9v63.9h4.4v-63.9zM2049.69 635.1v58.7h4.4v-58.7zM2061.99 660.91v32.89h4.4v-32.89zM2068.13 680.1v13.7h4.4v-13.7zM2074.28 671.88v21.92h4.4v-21.92zM2086.58 646.06v47.74h4.4v-47.74zM2092.73 667.12v26.68h4.4v-26.68zM2105.03 659.9v33.9h4.4v-33.9zM2117.32 621.39v72.41h4.4v-72.41zM2123.47 630.62v63.18h4.4v-63.18z"/>
<path fill="#802a33" d="M26.8 664.66v29.14h4.4v-29.14zM32.95 629.9v63.9h4.4v-63.9zM39.1 563.7v130.1h4.4v-130.1zM45.24 606.82v86.98h4.4v-86.98zM57.54 592.98v100.82h4.4v-100.82zM69.84 653.85v39.95h4.4v-39.95zM82.14 642.6v51.2h4.4v-51.2zM88.28 614.9v78.9h4.4v-78.9zM100.58 667.12v26.68h4.4v-26.68zM112.88 654.42v39.38h4.4v-39.38zM125.18 585.77v108.03h4.4v-108.03zM131.32 597.88v95.92h4.4v-95.92zM137.47 663.8v30h4.4v-30zM149.77 605.96v87.84h4.4v-87.84zM168.22 645.19v48.61h4.4v-48.61zM174.37 671.88v21.92h4.4v-21.92zM186.66 657.02v36.78h4.4v-36.78zM198.96 675.63v18.17h4.4v-18.17zM223.55 678.22v15.58h4.4v-15.58zM248.15 673.9v19.9h4.4v-19.9zM266.59 656.15v37.65h4.4v-37.65zM278.89 636.97v56.83h4.4v-56.83zM285.04 675.63v18.17h4.4v-18.17zM291.19 658.89v34.91h4.4v-34.91zM297.34 627.88v65.92h4.4v-65.92zM315.78 591.97v101.83h4.4v-101.83zM321.93 617.79v76.01h4.4v-76.01zM328.08 650.82v42.98h4.4v-42.98zM340.38 638.85v54.95h4.4v-54.95zM352.67 646.06v47.74h4.4v-47.74zM358.82 648.94v44.86h4.4v-44.86zM377.27 666.39v27.41h4.4v-27.41zM395.71 664.66v29.14h4.4v-29.14zM414.16 663.8v30h4.4v-30zM420.31 608.56v85.24h4.4v-85.24zM438.75 681.83v11.97h4.4v-11.97zM457.2 672.89v20.91h4.4v-20.91zM475.65 680.1v13.7h4.4v-13.7zM500.24 675.63v18.17h4.4v-18.17zM524.84 657.02v36.78h4.4v-36.78zM530.98 647.93v45.87h4.4v-45.87zM537.13 663.8v30h4.4v-30zM543.28 663.8v30h4.4v-30zM549.43 662.79v31.01h4.4v-31.01zM574.02 645.19v48.61h4.4v-48.61zM580.17 635.96v57.84h4.4v-57.84zM586.32 660.91v32.89h4.4v-32.89zM598.62 667.12v26.68h4.4v-26.68zM604.77 631.49v62.31h4.4v-62.31zM610.92 565.43v128.37h4.4v-128.37zM617.06 655.29v38.51h4.4v-38.51zM635.51 651.68v42.12h4.4v-42.12zM641.66 591.97v101.83h4.4v-101.83zM647.81 623.99v69.81h4.4v-69.81zM678.55 607.69v86.11h4.4v-86.11zM684.7 645.19v48.61h4.4v-48.61zM690.85 680.1v13.7h4.4v-13.7zM703.14 679.09v14.71h4.4v-14.71zM721.59 680.96v12.84h4.4v-12.84zM727.74 684.86v8.94h4.4v-8.94zM733.89 684.86v8.94h4.4v-8.94zM752.33 666.39v27.41h4.4v-27.41zM770.78 641.73v52.07h4.4v-52.07zM776.93 646.06v47.74h4.4v-47.74zM789.23 602.93v90.87h4.4v-90.87zM801.52 663.8v30h4.4v-30zM813.82 617.79v76.01h4.4v-76.01zM826.12 610.29v83.51h4.4v-83.51zM832.27 563.7v130.1h4.4v-130.1zM850.71 656.15v37.65h4.4v-37.65zM875.31 670v23.8h4.4v-23.8zM881.45 660.91v32.89h4.4v-32.89zM887.6 668.13v25.67h4.4v-25.67zM899.9 620.53v73.27h4.4v-73.27zM906.05 614.04v79.76h4.4v-79.76zM912.2 666.39v27.41h4.4v-27.41zM930.64 638.85v54.95h4.4v-54.95zM949.09 660.91v32.89h4.4v-32.89zM955.24 664.66v29.14h4.4v-29.14zM961.39 666.39v27.41h4.4v-27.41zM967.53 671.88v21.92h4.4v-21.92zM973.68 667.12v26.68h4.4v-26.68zM992.13 677.36v16.44h4.4v-16.44zM1022.87 660.91v32.89h4.4v-32.89zM1041.32 668.13v25.67h4.4v-25.67zM1047.47 632.5v61.3h4.4v-61.3zM1072.06 654.42v39.38h4.4v-39.38zM1084.36 629.9v63.9h4.4v-63.9zM1090.51 658.03v35.77h4.4v-35.77zM1096.65 664.66v29.14h4.4v-29.14zM1108.95 677.36v16.44h4.4v-16.44zM1121.25 617.79v76.01h4.4v-76.01zM1127.4 626.01v67.79h4.4v-67.79zM1151.99 659.9v33.9h4.4v-33.9zM1158.14 613.03v80.77h4.4v-80.77zM1164.29 563.7v130.1h4.4v-130.1zM1176.59 643.46v50.34h4.4v-50.34zM1182.74 572.78v121.02h4.4v-121.02zM1188.88 640.86v52.94h4.4v-52.94zM1201.18 622.26v71.54h4.4v-71.54zM1207.33 641.73v52.07h4.4v-52.07zM1219.63 670v23.8h4.4v-23.8zM1225.78 671.88v21.92h4.4v-21.92zM1238.07 672.89v20.91h4.4v-20.91zM1244.22 674.76v19.04h4.4v-19.04zM1262.67 665.67v28.13h4.4v-28.13zM1268.82 661.92v31.88h4.4v-31.88zM1274.96 620.53v73.27h4.4v-73.27zM1299.56 668.13v25.67h4.4v-25.67zM1305.71 596.73v97.07h4.4v-97.07zM1311.86 595.72v98.08h4.4v-98.08zM1324.15 607.69v86.11h4.4v-86.11zM1330.3 623.99v69.81h4.4v-69.81zM1354.9 669.14v24.66h4.4v-24.66zM1361.04 653.56v40.24h4.4v-40.24zM1367.19 620.53v73.27h4.4v-73.27zM1373.34 661.92v31.88h4.4v-31.88zM1379.49 626.01v67.79h4.4v-67.79zM1385.64 608.56v85.24h4.4v-85.24zM1404.08 647.93v45.87h4.4v-45.87zM1410.23 665.89v27.91h4.4v-27.91zM1416.38 612.3v81.5h4.4v-81.5zM1422.53 519.73v174.07h4.4v-174.07zM1428.68 633.48v60.32h4.4v-60.32zM1434.83 625.14v68.66h4.4v-68.66zM1440.98 578.29v115.51h4.4v-115.51zM1447.13 572.03v121.77h4.4v-121.77zM1471.72 663.96v29.84h4.4v-29.84zM1484.02 663v30.8h4.4v-30.8zM1514.76 656.26v37.54h4.4v-37.54zM1539.35 660.11v33.69h4.4v-33.69zM1551.65 653.85v39.95h4.4v-39.95zM1557.8 655.46v38.34h4.4v-38.34zM1576.25 655.46v38.34h4.4v-38.34zM1582.39 663v30.8h4.4v-30.8zM1588.54 667.33v26.47h4.4v-26.47zM1594.69 657.22v36.58h4.4v-36.58zM1600.84 633.48v60.32h4.4v-60.32zM1606.99 647.12v46.68h4.4v-46.68zM1619.29 667.33v26.47h4.4v-26.47zM1631.58 666.53v27.27h4.4v-27.27zM1637.73 637.97v55.83h4.4v-55.83zM1668.47 664.76v29.04h4.4v-29.04zM1674.62 655.46v38.34h4.4v-38.34zM1686.92 680.97v12.83h4.4v-12.83zM1693.07 671.02v22.78h4.4v-22.78zM1699.22 671.98v21.82h4.4v-21.82zM1717.66 627.86v65.94h4.4v-65.94zM1723.81 679.2v14.6h4.4v-14.6zM1729.96 682.09v11.71h4.4v-11.71zM1736.11 678.4v15.4h4.4v-15.4zM1754.56 670.06v23.74h4.4v-23.74zM1797.6 668.13v25.67h4.4v-25.67zM1803.74 570.77v123.03h4.4v-123.03zM1816.04 663.8v30h4.4v-30zM1822.19 569.03v124.77h4.4v-124.77zM1871.38 637.98v55.82h4.4v-55.82zM1889.82 658.03v35.77h4.4v-35.77zM1895.97 599.32v94.48h4.4v-94.48zM1920.57 667.12v26.68h4.4v-26.68zM1926.72 666.39v27.41h4.4v-27.41zM1939.01 630.62v63.18h4.4v-63.18zM1963.61 661.92v31.88h4.4v-31.88zM1969.76 605.96v87.84h4.4v-87.84zM1975.9 590.09v103.71h4.4v-103.71zM1982.05 673.9v19.9h4.4v-19.9zM1994.35 683.85v9.95h4.4v-9.95zM2012.8 679.09v14.71h4.4v-14.71zM2018.94 680.1v13.7h4.4v-13.7zM2031.24 682.98v10.82h4.4v-10.82zM2037.39 680.96v12.84h4.4v-12.84zM2055.84 643.46v50.34h4.4v-50.34zM2080.43 602.93v90.87h4.4v-90.87zM2098.88 668.13v25.67h4.4v-25.67zM2111.17 675.63v18.17h4.4v-18.17z"/>
</g>
<g id="ratio">
<path fill="#7e8dbd" d="M19 797.94v14.66h1.2v-14.66zM20.75 789.43v23.17h4.2v-23.17zM26.9 788.71v23.89h4.2v-23.89zM33.05 773.85v38.75h4.2v-38.75zM39.2 760.87v51.73h4.2v-51.73zM57.64 803.99v8.61h4.2v-8.61zM63.79 796.93v15.67h4.2v-15.67zM69.94 802.12v10.48h4.2v-10.48zM76.09 784.96v27.64h4.2v-27.64zM82.24 770.1v42.5h4.2v-42.5zM88.38 755.68v56.92h4.2v-56.92zM94.53 801.25v11.35h4.2v-11.35zM100.68 769.09v43.51h4.2v-43.51zM106.83 752.79v59.81h4.2v-59.81zM112.98 793.03v19.57h4.2v-19.57zM119.13 758.13v54.47h4.2v-54.47zM131.42 756.54v56.06h4.2v-56.06zM137.57 741.83v70.77h4.2v-70.77zM143.72 764.76v47.84h4.2v-47.84zM149.87 778.46v34.14h4.2v-34.14zM156.02 782.94v29.66h4.2v-29.66zM162.17 803.13v9.47h4.2v-9.47zM168.32 771.11v41.49h4.2v-41.49zM174.47 794.04v18.56h4.2v-18.56zM180.61 783.95v28.65h4.2v-28.65zM186.76 773.85v38.75h4.2v-38.75zM192.91 751.92v60.68h4.2v-60.68zM199.06 776.73v35.87h4.2v-35.87zM205.21 767.36v45.24h4.2v-45.24zM211.36 788.71v23.89h4.2v-23.89zM217.51 787.84v24.76h4.2v-24.76zM223.65 772.98v39.62h4.2v-39.62zM229.8 778.46v34.14h4.2v-34.14zM235.95 748.03v64.57h4.2v-64.57zM242.1 807.02v5.58h4.2v-5.58zM248.25 803.13v9.47h4.2v-9.47zM254.4 794.04v18.56h4.2v-18.56zM260.55 719.33v93.27h4.2v-93.27zM266.69 753.66v58.94h4.2v-58.94zM272.84 791.16v21.44h4.2v-21.44zM291.29 795.92v16.68h4.2v-16.68zM303.59 805.87v6.73h4.2v-6.73zM322.03 806.88v5.72h4.2v-5.72zM328.18 756.54v56.06h4.2v-56.06zM334.33 777.45v35.15h4.2v-35.15zM340.48 801.25v11.35h4.2v-11.35zM346.63 775.72v36.88h4.2v-36.88zM352.77 782.07v30.53h4.2v-30.53zM358.92 800.68v11.92h4.2v-11.92zM365.07 779.33v33.27h4.2v-33.27zM371.22 808.75v3.85h4.2v-3.85zM383.52 785.68v26.92h4.2v-26.92zM395.81 781.06v31.54h4.2v-31.54zM401.96 804.86v7.74h4.2v-7.74zM414.26 800.53v12.07h4.2v-12.07zM420.41 804.86v7.74h4.2v-7.74zM426.56 784.81v27.79h4.2v-27.79zM432.71 806.88v5.72h4.2v-5.72zM463.45 805.87v6.73h4.2v-6.73zM469.6 809.62v2.98h4.2v-2.98zM481.89 764.76v47.84h4.2v-47.84zM488.04 808.75v3.85h4.2v-3.85zM506.49 795.92v16.68h4.2v-16.68zM561.83 803.13v9.47h4.2v-9.47zM592.57 789.43v23.17h4.2v-23.17zM641.76 801.25v11.35h4.2v-11.35zM647.91 778.46v34.14h4.2v-34.14zM660.2 797.79v14.81h4.2v-14.81zM666.35 797.79v14.81h4.2v-14.81zM672.5 785.68v26.92h4.2v-26.92zM703.24 795.92v16.68h4.2v-16.68zM709.39 776.73v35.87h4.2v-35.87zM715.54 765.48v47.12h4.2v-47.12zM721.69 769.09v43.51h4.2v-43.51zM733.99 780.2v32.4h4.2v-32.4zM758.58 802.12v10.48h4.2v-10.48zM789.33 780.2v32.4h4.2v-32.4zM795.47 794.04v18.56h4.2v-18.56zM801.62 790.29v22.31h4.2v-22.31zM813.92 806.88v5.72h4.2v-5.72zM820.07 782.79v29.81h4.2v-29.81zM826.22 772.98v39.62h4.2v-39.62zM832.37 752.79v59.81h4.2v-59.81zM838.51 793.03v19.57h4.2v-19.57zM844.66 767.36v45.24h4.2v-45.24zM856.96 774.71v37.89h4.2v-37.89zM863.11 768.22v44.38h4.2v-44.38zM881.55 781.06v31.54h4.2v-31.54zM887.7 809.62v2.98h4.2v-2.98zM893.85 760.87v51.73h4.2v-51.73zM900 771.97v40.63h4.2v-40.63zM906.15 750.77v61.83h4.2v-61.83zM912.3 733.46v79.14h4.2v-79.14zM918.45 766.49v46.11h4.2v-46.11zM924.59 736.2v76.4h4.2v-76.4zM930.74 771.97v40.63h4.2v-40.63zM936.89 787.55v25.05h4.2v-25.05zM943.04 731.73v80.87h4.2v-80.87zM949.19 788.56v24.04h4.2v-24.04zM955.34 784.81v27.79h4.2v-27.79zM967.63 779.33v33.27h4.2v-33.27zM973.78 731.73v80.87h4.2v-80.87zM979.93 774.71v37.89h4.2v-37.89zM986.08 783.95v28.65h4.2v-28.65zM992.23 769.09v43.51h4.2v-43.51zM998.38 762.89v49.71h4.2v-49.71zM1004.53 772.98v39.62h4.2v-39.62zM1010.67 802.12v10.48h4.2v-10.48zM1016.82 783.95v28.65h4.2v-28.65zM1022.97 793.03v19.57h4.2v-19.57zM1029.12 800.53v12.07h4.2v-12.07zM1035.27 790.29v22.31h4.2v-22.31zM1047.57 776.73v35.87h4.2v-35.87zM1053.71 784.81v27.79h4.2v-27.79zM1059.86 768.22v44.38h4.2v-44.38zM1072.16 791.16v21.44h4.2v-21.44zM1078.31 758.27v54.33h4.2v-54.33zM1084.46 776.73v35.87h4.2v-35.87zM1090.61 794.76v17.84h4.2v-17.84zM1096.76 752.79v59.81h4.2v-59.81zM1102.9 754.67v57.93h4.2v-57.93zM1109.05 758.99v53.61h4.2v-53.61zM1115.2 768.22v44.38h4.2v-44.38zM1121.35 794.76v17.84h4.2v-17.84zM1127.5 775.72v36.88h4.2v-36.88zM1133.65 760.87v51.73h4.2v-51.73zM1139.8 803.99v8.61h4.2v-8.61zM1145.94 784.81v27.79h4.2v-27.79zM1158.24 744.57v68.03h4.2v-68.03zM1164.39 760.87v51.73h4.2v-51.73zM1170.54 791.16v21.44h4.2v-21.44zM1176.69 760.87v51.73h4.2v-51.73zM1188.98 786.69v25.91h4.2v-25.91zM1195.13 780.2v32.4h4.2v-32.4zM1201.28 749.91v62.69h4.2v-62.69zM1207.43 770.1v42.5h4.2v-42.5zM1213.58 771.97v40.63h4.2v-40.63zM1219.73 785.68v26.92h4.2v-26.92zM1225.88 791.16v21.44h4.2v-21.44zM1232.02 763.75v48.85h4.2v-48.85zM1238.17 792.17v20.43h4.2v-20.43zM1244.32 762.89v49.71h4.2v-49.71zM1250.47 793.03v19.57h4.2v-19.57zM1256.62 754.67v57.93h4.2v-57.93zM1262.77 780.2v32.4h4.2v-32.4zM1268.92 750.77v61.83h4.2v-61.83zM1275.06 761.88v50.72h4.2v-50.72zM1281.21 802.12v10.48h4.2v-10.48zM1287.36 769.09v43.51h4.2v-43.51zM1293.51 809.62v2.98h4.2v-2.98zM1299.66 753.66v58.94h4.2v-58.94zM1305.81 773.85v38.75h4.2v-38.75zM1311.96 770.1v42.5h4.2v-42.5zM1318.1 766.49v46.11h4.2v-46.11zM1324.25 776.73v35.87h4.2v-35.87zM1330.4 788.56v24.04h4.2v-24.04zM1336.55 789.43v23.17h4.2v-23.17zM1348.85 749.91v62.69h4.2v-62.69zM1361.14 783.95v28.65h4.2v-28.65zM1367.29 806.88v5.72h4.2v-5.72zM1373.44 758.13v54.47h4.2v-54.47zM1379.59 752.79v59.81h4.2v-59.81zM1385.74 769.09v43.51h4.2v-43.51zM1391.89 768.22v44.38h4.2v-44.38zM1416.48 787.55v25.05h4.2v-25.05zM1422.63 770.1v42.5h4.2v-42.5zM1428.78 761.88v50.72h4.2v-50.72zM1434.93 805.87v6.73h4.2v-6.73zM1441.08 778.46v34.14h4.2v-34.14zM1447.23 758.13v54.47h4.2v-54.47zM1453.37 754.67v57.93h4.2v-57.93zM1459.52 792.17v20.43h4.2v-20.43zM1465.67 795.92v16.68h4.2v-16.68zM1471.82 776.73v35.87h4.2v-35.87zM1477.97 793.03v19.57h4.2v-19.57zM1484.12 781.06v31.54h4.2v-31.54zM1490.27 764.76v47.84h4.2v-47.84zM1496.41 810.63v1.97h4.2v-1.97zM1502.56 756.54v56.06h4.2v-56.06zM1508.71 758.99v53.61h4.2v-53.61zM1514.86 795.92v16.68h4.2v-16.68zM1521.01 767.36v45.24h4.2v-45.24zM1539.45 797.79v14.81h4.2v-14.81zM1545.6 778.46v34.14h4.2v-34.14zM1551.75 777.45v35.15h4.2v-35.15zM1564.05 790.29v22.31h4.2v-22.31zM1570.2 800.53v12.07h4.2v-12.07zM1576.35 805.87v6.73h4.2v-6.73zM1582.49 798.95v13.65h4.2v-13.65zM1588.64 792.17v20.43h4.2v-20.43zM1600.94 794.04v18.56h4.2v-18.56zM1607.09 802.12v10.48h4.2v-10.48zM1631.68 785.68v26.92h4.2v-26.92zM1637.83 782.07v30.53h4.2v-30.53zM1643.98 793.03v19.57h4.2v-19.57zM1674.72 794.91v17.69h4.2v-17.69zM1687.02 802.12v10.48h4.2v-10.48zM1736.21 789.43v23.17h4.2v-23.17zM1748.51 776.73v35.87h4.2v-35.87zM1791.55 751.92v60.68h4.2v-60.68zM1803.84 788.56v24.04h4.2v-24.04zM1822.29 751.92v60.68h4.2v-60.68zM1828.44 770.1v42.5h4.2v-42.5zM1834.59 801.25v11.35h4.2v-11.35zM1840.74 763.75v48.85h4.2v-48.85zM1846.88 800.53v12.07h4.2v-12.07zM1853.03 758.13v54.47h4.2v-54.47zM1902.22 799.67v12.93h4.2v-12.93zM1926.82 802.12v10.48h4.2v-10.48zM1957.56 806.88v5.72h4.2v-5.72zM1963.71 802.12v10.48h4.2v-10.48zM1969.86 801.25v11.35h4.2v-11.35zM1982.15 804.86v7.74h4.2v-7.74zM2006.75 799.67v12.93h4.2v-12.93zM2012.9 808.75v3.85h4.2v-3.85zM2019.05 787.55v25.05h4.2v-25.05zM2025.19 777.45v35.15h4.2v-35.15zM2031.34 792.17v20.43h4.2v-20.43zM2043.64 791.16v21.44h4.2v-21.44zM2049.79 768.22v44.38h4.2v-44.38zM2068.23 781.06v31.54h4.2v-31.54zM2074.38 809.62v2.98h4.2v-2.98zM2086.68 800.53v12.07h4.2v-12.07zM2092.83 796.93v15.67h4.2v-15.67zM2098.98 776.73v35.87h4.2v-35.87zM2105.13 777.45v35.15h4.2v-35.15zM2111.27 789.43v23.17h4.2v-23.17zM2117.42 794.04v18.56h4.2v-18.56z"/>
<path fill="#ff0000" d="M45.34 810.7v21.13h4.2v-21.13zM51.49 810.7v13.92h4.2v-13.92zM125.28 810.7v25.89h4.2v-25.89zM278.99 810.7v29.35h4.2v-29.35zM285.14 810.7v25.89h4.2v-25.89zM297.44 810.7v8.15h4.2v-8.15zM309.73 810.7v15.65h4.2v-15.65zM315.88 810.7v28.34h4.2v-28.34zM377.37 810.7v1.95h4.2v-1.95zM389.67 810.7v18.25h4.2v-18.25zM408.11 810.7v3.1h4.2v-3.1zM438.85 810.7v13.92h4.2v-13.92zM445 810.7v16.52h4.2v-16.52zM451.15 810.7v7.43h4.2v-7.43zM457.3 810.7v4.55h4.2v-4.55zM475.75 810.7v31.23h4.2v-31.23zM494.19 810.7v23.15h4.2v-23.15zM500.34 810.7v49.69h4.2v-49.69zM512.64 810.7v11.04h4.2v-11.04zM518.79 810.7v68.15h4.2v-68.15zM524.94 810.7v49.69h4.2v-49.69zM531.08 810.7v18.25h4.2v-18.25zM537.23 810.7v15.65h4.2v-15.65zM543.38 810.7v34.11h4.2v-34.11zM549.53 810.7v27.62h4.2v-27.62zM555.68 810.7v47.82h4.2v-47.82zM567.98 810.7v69.88h4.2v-69.88zM574.12 810.7v70.89h4.2v-70.89zM580.27 810.7v20.12h4.2v-20.12zM586.42 810.7v3.82h4.2v-3.82zM598.72 810.7v16.52h4.2v-16.52zM604.87 810.7v44.21h4.2v-44.21zM611.02 810.7v22.14h4.2v-22.14zM617.16 810.7v31.23h4.2v-31.23zM623.31 810.7v60.65h4.2v-60.65zM629.46 810.7v11.04h4.2v-11.04zM635.61 810.7v56.18h4.2v-56.18zM654.06 810.7v1.95h4.2v-1.95zM678.65 810.7v2.81h4.2v-2.81zM684.8 810.7v13.92h4.2v-13.92zM690.95 810.7v27.62h4.2v-27.62zM697.1 810.7v7.29h4.2v-7.29zM727.84 810.7v15.65h4.2v-15.65zM740.14 810.7v31.23h4.2v-31.23zM746.28 810.7v1.66h4.2v-1.66zM752.43 810.7v5.27h4.2v-5.27zM764.73 810.7v33.1h4.2v-33.1zM770.88 810.7v13.92h4.2v-13.92zM777.03 810.7v49.69h4.2v-49.69zM783.18 810.7v79.12h4.2v-79.12zM807.77 810.7v13.92h4.2v-13.92zM850.81 810.7v2.81h4.2v-2.81zM869.26 810.7v22.14h4.2v-22.14zM875.41 810.7v4.55h4.2v-4.55zM961.49 810.7v3.82h4.2v-3.82zM1041.42 810.7v5.27h4.2v-5.27zM1066.01 810.7v4.55h4.2v-4.55zM1152.09 810.7v10.31h4.2v-10.31zM1182.84 810.7v12.91h4.2v-12.91zM1342.7 810.7v3.1h4.2v-3.1zM1355 810.7v4.55h4.2v-4.55zM1398.04 810.7v15.65h4.2v-15.65zM1404.18 810.7v6.42h4.2v-6.42zM1410.33 810.7v18.25h4.2v-18.25zM1527.16 810.7v11.04h4.2v-11.04zM1533.31 810.7v14.64h4.2v-14.64zM1557.9 810.7v15.36h4.2v-15.36zM1594.79 810.7v17.24h4.2v-17.24zM1613.24 810.7v13.92h4.2v-13.92zM1619.39 810.7v8.15h4.2v-8.15zM1625.53 810.7v1.95h4.2v-1.95zM1650.13 810.7v43.92h4.2v-43.92zM1656.28 810.7v30.22h4.2v-30.22zM1662.43 810.7v10.03h4.2v-10.03zM1668.57 810.7v2.81h4.2v-2.81zM1680.87 810.7v24.74h4.2v-24.74zM1693.17 810.7v22.14h4.2v-22.14zM1699.32 810.7v7.29h4.2v-7.29zM1705.47 810.7v22.14h4.2v-22.14zM1711.62 810.7v14.64h4.2v-14.64zM1717.76 810.7v24.74h4.2v-24.74zM1723.91 810.7v70.89h4.2v-70.89zM1730.06 810.7v34.11h4.2v-34.11zM1742.36 810.7v3.82h4.2v-3.82zM1754.66 810.7v23.15h4.2v-23.15zM1760.8 810.7v4.55h4.2v-4.55zM1766.95 810.7v23.15h4.2v-23.15zM1773.1 810.7v34.98h4.2v-34.98zM1779.25 810.7v35.84h4.2v-35.84zM1785.4 810.7v8.15h4.2v-8.15zM1797.7 810.7v53.15h4.2v-53.15zM1809.99 810.7v37.58h4.2v-37.58zM1816.14 810.7v15.65h4.2v-15.65zM1859.18 810.7v33.1h4.2v-33.1zM1865.33 810.7v40.32h4.2v-40.32zM1871.48 810.7v27.62h4.2v-27.62zM1877.63 810.7v60.65h4.2v-60.65zM1883.78 810.7v4.55h4.2v-4.55zM1889.92 810.7v35.84h4.2v-35.84zM1896.07 810.7v14.64h4.2v-14.64zM1908.37 810.7v16.52h4.2v-16.52zM1914.52 810.7v24.74h4.2v-24.74zM1920.67 810.7v15.65h4.2v-15.65zM1932.96 810.7v56.18h4.2v-56.18zM1939.11 810.7v61.52h4.2v-61.52zM1945.26 810.7v39.45h4.2v-39.45zM1951.41 810.7v22.14h4.2v-22.14zM1976 810.7v6.42h4.2v-6.42zM1988.3 810.7v7.29h4.2v-7.29zM1994.45 810.7v21.13h4.2v-21.13zM2000.6 810.7v58.92h4.2v-58.92zM2037.49 810.7v27.62h4.2v-27.62zM2055.94 810.7v10.31h4.2v-10.31zM2062.09 810.7v8.15h4.2v-8.15zM2080.53 810.7v36.71h4.2v-36.71zM2123.57 810.7v31.23h4.2v-31.23z"/>
</g>
<g id="liq">
<path fill="#00bfff" d="M26.9 1094.93v1.44h4.2v-1.44zM33.05 1053.82v45h4.2v-45zM39.2 1059.16v36.06h4.2v-36.06zM45.34 1071.42v16.59h4.2v-16.59zM82.24 1090.6v1.73h4.2v-1.73zM88.38 1052.96v38.66h4.2v-38.66zM94.53 1092.05v1.73h4.2v-1.73zM100.68 1094.07v2.02h4.2v-2.02zM112.98 1090.6v6.35h4.2v-6.35zM119.13 1088.01v1.73h4.2v-1.73zM125.28 1060.17v29.57h4.2v-29.57zM131.42 1071.42v11.97h4.2v-11.97zM137.57 1091.32v1.01h4.2v-1.01zM149.87 1065.94v32.89h4.2v-32.89zM156.02 1025.26v14.86h4.2v-14.86zM168.32 1085.99v5.63h4.2v-5.63zM174.47 1094.07v1.15h4.2v-1.15zM217.51 1097.82v1.01h4.2v-1.01zM223.65 1095.22v3.61h4.2v-3.61zM248.25 1091.61v3.61h4.2v-3.61zM266.69 1092.33v2.88h4.2v-2.88zM278.99 1077.91v13.7h4.2v-13.7zM285.14 1095.22v3.61h4.2v-3.61zM291.29 1089.88v7.07h4.2v-7.07zM297.44 1077.91v15.43h4.2v-15.43zM322.03 1063.05v33.03h4.2v-33.03zM328.18 1088.87v1.73h4.2v-1.73zM334.33 1094.93v1.15h4.2v-1.15zM340.48 1085.99v6.35h4.2v-6.35zM352.77 1092.33v2.88h4.2v-2.88zM358.92 1087v5.34h4.2v-5.34zM377.37 1095.94v1.88h4.2v-1.88zM383.52 1091.61v3.61h4.2v-3.61zM395.81 1088.87v9.95h4.2v-9.95zM414.26 1095.94v2.88h4.2v-2.88zM420.41 1066.95v28.27h4.2v-28.27zM451.15 1097.82v1.01h4.2v-1.01zM457.3 1096.95v0.87h4.2v-0.87zM500.34 1095.94v1.88h4.2v-1.88zM524.94 1091.61v7.21h4.2v-7.21zM531.08 1093.34v4.47h4.2v-4.47zM543.38 1083.25v15.58h4.2v-15.58zM549.53 1092.33v6.49h4.2v-6.49zM567.98 1082.38v9.23h4.2v-9.23zM574.12 1074.02v21.2h4.2v-21.2zM580.27 1084.11v11.11h4.2v-11.11zM586.42 1092.33v4.62h4.2v-4.62zM598.72 1093.34v5.48h4.2v-5.48zM604.87 1085.12v9.38h4.2v-9.38zM611.02 1058.58v14.57h4.2v-14.57zM617.16 1087v5.34h4.2v-5.34zM629.46 1070.41v5.48h4.2v-5.48zM635.61 1080.65v18.17h4.2v-18.17zM641.76 1068.82v23.51h4.2v-23.51zM647.91 1075.03v19.04h4.2v-19.04zM678.65 1089.88v1.01h4.2v-1.01zM690.95 1097.82v1.01h4.2v-1.01zM697.1 1095.94v1.88h4.2v-1.88zM709.39 1097.82v1.01h4.2v-1.01zM715.54 1094.07v2.02h4.2v-2.02zM727.84 1095.94v2.88h4.2v-2.88zM752.43 1090.6v1.01h4.2v-1.01zM758.58 1096.95v1.88h4.2v-1.88zM770.88 1061.03v36.78h4.2v-36.78zM777.03 1087v9.95h4.2v-9.95zM783.18 1090.6v5.48h4.2v-5.48zM789.33 983.87v101.25h4.2v-101.25zM795.47 1089.88v1.01h4.2v-1.01zM801.62 1091.61v7.21h4.2v-7.21zM813.92 1054.83v37.5h4.2v-37.5zM820.07 1067.81v27.41h4.2v-27.41zM826.22 1054.83v9.09h4.2v-9.09zM832.37 995.12v92.89h4.2v-92.89zM838.51 994.25v81.64h4.2v-81.64zM844.66 1062.04v13.85h4.2v-13.85zM850.81 1091.32v1.01h4.2v-1.01zM856.96 1089.88v2.45h4.2v-2.45zM875.41 1090.6v7.21h4.2v-7.21zM881.55 1087v8.22h4.2v-8.22zM887.7 1092.33v5.48h4.2v-5.48zM893.85 1094.07v2.88h4.2v-2.88zM900 1077.91v15.43h4.2v-15.43zM906.15 1062.04v27.84h4.2v-27.84zM912.3 1088.01v8.94h4.2v-8.94zM924.59 1089.88v5.34h4.2v-5.34zM930.74 1049.35v45.87h4.2v-45.87zM936.89 1082.38v2.74h4.2v-2.74zM955.34 1092.05v1.3h4.2v-1.3zM961.49 1087v9.95h4.2v-9.95zM1035.27 1095.22v2.6h4.2v-2.6zM1041.42 1095.94v1.88h4.2v-1.88zM1047.57 1075.89v16.44h4.2v-16.44zM1072.16 1088.87v9.95h4.2v-9.95zM1084.46 1050.22v46.73h4.2v-46.73zM1090.61 1089.88v6.2h4.2v-6.2zM1096.76 1076.9v17.6h4.2v-17.6zM1109.05 1095.22v0.87h4.2v-0.87zM1121.35 1067.81v27.41h4.2v-27.41zM1127.5 996.85v97.65h4.2v-97.65zM1152.09 1092.33v4.62h4.2v-4.62zM1158.24 1051.95v23.94h4.2v-23.94zM1164.39 1037.24v50.77h4.2v-50.77zM1176.69 1084.11v11.97h4.2v-11.97zM1182.84 1065.94v19.18h4.2v-19.18zM1188.98 1079.79v13.56h4.2v-13.56zM1201.28 1060.17v22.21h4.2v-22.21zM1207.43 1076.9v13.99h4.2v-13.99zM1225.88 1092.33v1.01h4.2v-1.01zM1244.32 1090.6v6.35h4.2v-6.35zM1262.77 1088.01v4.33h4.2v-4.33zM1268.92 1089.88v7.93h4.2v-7.93zM1275.06 1065.94v20.05h4.2v-20.05zM1281.21 1059.45v23.8h4.2v-23.8zM1299.66 1094.07v4.76h4.2v-4.76zM1305.81 1068.53v11.25h4.2v-11.25zM1311.96 1046.61v43.27h4.2v-43.27zM1318.1 1085.12v8.22h4.2v-8.22zM1324.25 1063.92v22.07h4.2v-22.07zM1355 1092.33v4.62h4.2v-4.62zM1361.14 1087v8.22h4.2v-8.22zM1367.29 1075.89v11.11h4.2v-11.11zM1379.59 1077.91v14.42h4.2v-14.42zM1385.74 1062.04v30.29h4.2v-30.29zM1404.18 1088.87v1.01h4.2v-1.01zM1410.33 1090.6v6.35h4.2v-6.35zM1416.48 1064.93v23.94h4.2v-23.94zM1422.63 1015.31v69.81h4.2v-69.81zM1434.93 1051.08v41.25h4.2v-41.25zM1441.08 1074.02v11.97h4.2v-11.97zM1447.23 1074.02v17.6h4.2v-17.6zM1453.37 930.07v130.97h4.2v-130.97zM1465.67 1088.87v3.46h4.2v-3.46zM1471.82 1092.33v2.88h4.2v-2.88zM1477.97 1094.07v1.15h4.2v-1.15zM1484.12 1093.34v1.88h4.2v-1.88zM1490.27 1091.61v2.45h4.2v-2.45zM1514.86 1087v8.22h4.2v-8.22zM1539.45 1090.6v2.74h4.2v-2.74zM1551.75 1090.6v5.48h4.2v-5.48zM1557.9 1093.06v1.01h4.2v-1.01zM1582.49 1091.61v5.34h4.2v-5.34zM1588.64 1092.33v3.75h4.2v-3.75zM1594.79 1090.6v5.48h4.2v-5.48zM1600.94 1058.58v30.29h4.2v-30.29zM1607.09 1080.65v7.36h4.2v-7.36zM1619.39 1092.33v1.73h4.2v-1.73zM1631.68 1095.22v3.61h4.2v-3.61zM1674.72 1085.99v5.63h4.2v-5.63zM1687.02 1096.95v0.87h4.2v-0.87zM1699.32 1095.22v1.73h4.2v-1.73zM1717.76 1060.17v32.17h4.2v-32.17zM1723.91 1097.82v1.01h4.2v-1.01zM1730.06 1097.82v1.01h4.2v-1.01zM1736.21 1092.33v5.48h4.2v-5.48zM1742.36 1097.82v1.01h4.2v-1.01zM1754.66 1091.61v4.47h4.2v-4.47zM1760.8 1096.95v0.87h4.2v-0.87zM1766.95 1096.08v1.73h4.2v-1.73zM1791.55 1096.95v0.87h4.2v-0.87zM1797.7 1088.01v8.94h4.2v-8.94zM1803.84 1014.45v74.43h4.2v-74.43zM1809.99 1074.02v18.32h4.2v-18.32zM1816.14 1093.34v1.88h4.2v-1.88zM1822.29 1059.45v24.66h4.2v-24.66zM1840.74 1094.07v1.15h4.2v-1.15zM1846.88 1096.95v0.87h4.2v-0.87zM1889.92 1095.22v2.6h4.2v-2.6zM1914.52 1088.01v3.61h4.2v-3.61zM1926.82 1095.22v2.6h4.2v-2.6zM1939.11 1073.15v10.1h4.2v-10.1zM1951.41 1089.88v4.62h4.2v-4.62zM1963.71 1090.6v4.62h4.2v-4.62zM1969.86 1072.14v1.01h4.2v-1.01zM1976 1001.61v83.51h4.2v-83.51zM1982.15 1096.08v2.74h4.2v-2.74zM2000.6 1095.22v1.73h4.2v-1.73zM2012.9 1096.08v2.74h4.2v-2.74zM2019.05 1093.34v5.48h4.2v-5.48zM2031.34 1097.82v1.01h4.2v-1.01zM2037.49 1097.82v1.01h4.2v-1.01zM2055.94 1081.52v13.7h4.2v-13.7zM2080.53 1084.11v9.23h4.2v-9.23zM2086.68 1091.61v4.47h4.2v-4.47zM2098.98 1093.34v2.74h4.2v-2.74zM2105.13 1094.07v2.02h4.2v-2.02zM2111.27 1095.22v2.6h4.2v-2.6z"/>
<path fill="#8b0000" d="M19 1088.7v12h1.2v-12zM20.75 1085.12v15.58h4.2v-15.58zM26.9 1096.37v4.33h4.2v-4.33zM33.05 1098.82v1.88h4.2v-1.88zM39.2 1095.22v5.48h4.2v-5.48zM45.34 1088.01v12.69h4.2v-12.69zM51.49 1074.02v26.68h4.2v-26.68zM57.64 1082.38v18.32h4.2v-18.32zM63.79 1096.08v4.62h4.2v-4.62zM69.94 1093.34v7.36h4.2v-7.36zM76.09 1096.08v4.62h4.2v-4.62zM82.24 1092.33v8.37h4.2v-8.37zM88.38 1091.61v9.09h4.2v-9.09zM94.53 1093.78v6.92h4.2v-6.92zM100.68 1096.08v4.62h4.2v-4.62zM106.83 1094.07v6.63h4.2v-6.63zM112.98 1096.95v3.75h4.2v-3.75zM119.13 1089.74v10.96h4.2v-10.96zM125.28 1089.74v10.96h4.2v-10.96zM131.42 1083.39v17.31h4.2v-17.31zM137.57 1092.33v8.37h4.2v-8.37zM143.72 1065.94v34.76h4.2v-34.76zM149.87 1098.82v1.88h4.2v-1.88zM156.02 1040.12v60.58h4.2v-60.58zM162.17 1076.9v23.8h4.2v-23.8zM168.32 1091.61v9.09h4.2v-9.09zM174.47 1095.22v5.48h4.2v-5.48zM199.06 1098.82v1.88h4.2v-1.88zM205.21 1097.82v2.88h4.2v-2.88zM211.36 1095.22v5.48h4.2v-5.48zM217.51 1098.82v1.88h4.2v-1.88zM223.65 1098.82v1.88h4.2v-1.88zM229.8 1078.92v21.78h4.2v-21.78zM235.95 1074.02v26.68h4.2v-26.68zM242.1 1075.89v24.81h4.2v-24.81zM248.25 1095.22v5.48h4.2v-5.48zM254.4 1084.11v16.59h4.2v-16.59zM260.55 1088.87v11.83h4.2v-11.83zM266.69 1095.22v5.48h4.2v-5.48zM272.84 1094.07v6.63h4.2v-6.63zM278.99 1091.61v9.09h4.2v-9.09zM285.14 1098.82v1.88h4.2v-1.88zM291.29 1096.95v3.75h4.2v-3.75zM297.44 1093.34v7.36h4.2v-7.36zM303.59 1091.61v9.09h4.2v-9.09zM309.73 1051.08v49.62h4.2v-49.62zM315.88 1079.79v20.91h4.2v-20.91zM322.03 1096.08v4.62h4.2v-4.62zM328.18 1090.6v10.1h4.2v-10.1zM334.33 1096.08v4.62h4.2v-4.62zM340.48 1092.33v8.37h4.2v-8.37zM346.63 1088.87v11.83h4.2v-11.83zM352.77 1095.22v5.48h4.2v-5.48zM358.92 1092.33v8.37h4.2v-8.37zM365.07 1095.22v5.48h4.2v-5.48zM371.22 1080.65v20.05h4.2v-20.05zM377.37 1097.82v2.88h4.2v-2.88zM383.52 1095.22v5.48h4.2v-5.48zM389.67 1079.79v20.91h4.2v-20.91zM395.81 1098.82v1.88h4.2v-1.88zM401.96 1095.22v5.48h4.2v-5.48zM408.11 1063.05v37.65h4.2v-37.65zM414.26 1098.82v1.88h4.2v-1.88zM420.41 1095.22v5.48h4.2v-5.48zM426.56 1088.01v12.69h4.2v-12.69zM432.71 1098.82v1.88h4.2v-1.88zM438.85 1096.95v3.75h4.2v-3.75zM445 1096.95v3.75h4.2v-3.75zM451.15 1098.82v1.88h4.2v-1.88zM457.3 1097.82v2.88h4.2v-2.88zM463.45 1096.08v4.62h4.2v-4.62zM469.6 1098.82v1.88h4.2v-1.88zM475.75 1095.22v5.48h4.2v-5.48zM481.89 1097.82v2.88h4.2v-2.88zM488.04 1075.89v24.81h4.2v-24.81zM494.19 1093.34v7.36h4.2v-7.36zM500.34 1097.82v2.88h4.2v-2.88zM506.49 1094.07v6.63h4.2v-6.63zM512.64 1085.99v14.71h4.2v-14.71zM518.79 1088.87v11.83h4.2v-11.83zM524.94 1098.82v1.88h4.2v-1.88zM531.08 1097.82v2.88h4.2v-2.88zM537.23 1085.12v15.58h4.2v-15.58zM543.38 1098.82v1.88h4.2v-1.88zM549.53 1098.82v1.88h4.2v-1.88zM555.68 1097.82v2.88h4.2v-2.88zM561.83 1096.08v4.62h4.2v-4.62zM567.98 1091.61v9.09h4.2v-9.09zM574.12 1095.22v5.48h4.2v-5.48zM580.27 1095.22v5.48h4.2v-5.48zM586.42 1096.95v3.75h4.2v-3.75zM592.57 1096.95v3.75h4.2v-3.75zM598.72 1098.82v1.88h4.2v-1.88zM604.87 1094.5v6.2h4.2v-6.2zM611.02 1073.15v27.55h4.2v-27.55zM617.16 1092.33v8.37h4.2v-8.37zM623.31 1096.95v3.75h4.2v-3.75zM629.46 1075.89v24.81h4.2v-24.81zM635.61 1098.82v1.88h4.2v-1.88zM641.76 1092.33v8.37h4.2v-8.37zM647.91 1094.07v6.63h4.2v-6.63zM672.5 1095.22v5.48h4.2v-5.48zM678.65 1090.89v9.81h4.2v-9.81zM684.8 1003.34v97.36h4.2v-97.36zM690.95 1098.82v1.88h4.2v-1.88zM697.1 1097.82v2.88h4.2v-2.88zM703.24 1096.95v3.75h4.2v-3.75zM709.39 1098.82v1.88h4.2v-1.88zM715.54 1096.08v4.62h4.2v-4.62zM721.69 1097.82v2.88h4.2v-2.88zM727.84 1098.82v1.88h4.2v-1.88zM733.99 1098.82v1.88h4.2v-1.88zM740.14 1092.33v8.37h4.2v-8.37zM746.28 1096.95v3.75h4.2v-3.75zM752.43 1091.61v9.09h4.2v-9.09zM758.58 1098.82v1.88h4.2v-1.88zM764.73 1096.95v3.75h4.2v-3.75zM770.88 1097.82v2.88h4.2v-2.88zM777.03 1096.95v3.75h4.2v-3.75zM783.18 1096.08v4.62h4.2v-4.62zM789.33 1085.12v15.58h4.2v-15.58zM795.47 1090.89v9.81h4.2v-9.81zM801.62 1098.82v1.88h4.2v-1.88zM807.77 1090.6v10.1h4.2v-10.1zM813.92 1092.33v8.37h4.2v-8.37zM820.07 1095.22v5.48h4.2v-5.48zM826.22 1063.92v36.78h4.2v-36.78zM832.37 1088.01v12.69h4.2v-12.69zM838.51 1075.89v24.81h4.2v-24.81zM844.66 1075.89v24.81h4.2v-24.81zM850.81 1092.33v8.37h4.2v-8.37zM856.96 1092.33v8.37h4.2v-8.37zM863.11 1079.79v20.91h4.2v-20.91zM869.26 1085.99v14.71h4.2v-14.71zM875.41 1097.82v2.88h4.2v-2.88zM881.55 1095.22v5.48h4.2v-5.48zM887.7 1097.82v2.88h4.2v-2.88zM893.85 1096.95v3.75h4.2v-3.75zM900 1093.34v7.36h4.2v-7.36zM906.15 1089.88v10.82h4.2v-10.82zM912.3 1096.95v3.75h4.2v-3.75zM918.45 1085.12v15.58h4.2v-15.58zM924.59 1095.22v5.48h4.2v-5.48zM930.74 1095.22v5.48h4.2v-5.48zM936.89 1085.12v15.58h4.2v-15.58zM943.04 1074.02v26.68h4.2v-26.68zM949.19 1085.12v15.58h4.2v-15.58zM955.34 1093.34v7.36h4.2v-7.36zM961.49 1096.95v3.75h4.2v-3.75zM992.23 1098.82v1.88h4.2v-1.88zM998.38 1097.82v2.88h4.2v-2.88zM1004.53 1096.08v4.62h4.2v-4.62zM1010.67 1057.72v42.98h4.2v-42.98zM1016.82 1087v13.7h4.2v-13.7zM1022.97 1094.07v6.63h4.2v-6.63zM1029.12 1072.14v28.56h4.2v-28.56zM1035.27 1097.82v2.88h4.2v-2.88zM1041.42 1097.82v2.88h4.2v-2.88zM1047.57 1092.33v8.37h4.2v-8.37zM1053.71 1094.07v6.63h4.2v-6.63zM1059.86 1093.34v7.36h4.2v-7.36zM1066.01 1081.52v19.18h4.2v-19.18zM1072.16 1098.82v1.88h4.2v-1.88zM1078.31 1096.08v4.62h4.2v-4.62zM1084.46 1096.95v3.75h4.2v-3.75zM1090.61 1096.08v4.62h4.2v-4.62zM1096.76 1094.5v6.2h4.2v-6.2zM1102.9 1094.07v6.63h4.2v-6.63zM1109.05 1096.08v4.62h4.2v-4.62zM1115.2 1084.11v16.59h4.2v-16.59zM1121.35 1095.22v5.48h4.2v-5.48zM1127.5 1094.5v6.2h4.2v-6.2zM1133.65 1097.82v2.88h4.2v-2.88zM1139.8 1088.01v12.69h4.2v-12.69zM1145.94 1083.25v17.45h4.2v-17.45zM1152.09 1096.95v3.75h4.2v-3.75zM1158.24 1075.89v24.81h4.2v-24.81zM1164.39 1088.01v12.69h4.2v-12.69zM1170.54 1062.04v38.66h4.2v-38.66zM1176.69 1096.08v4.62h4.2v-4.62zM1182.84 1085.12v15.58h4.2v-15.58zM1188.98 1093.34v7.36h4.2v-7.36zM1195.13 1072.14v28.56h4.2v-28.56zM1201.28 1082.38v18.32h4.2v-18.32zM1207.43 1090.89v9.81h4.2v-9.81zM1213.58 1088.01v12.69h4.2v-12.69zM1219.73 1095.22v5.48h4.2v-5.48zM1225.88 1093.34v7.36h4.2v-7.36zM1232.02 1096.95v3.75h4.2v-3.75zM1238.17 1093.34v7.36h4.2v-7.36zM1244.32 1096.95v3.75h4.2v-3.75zM1250.47 1088.01v12.69h4.2v-12.69zM1256.62 1093.34v7.36h4.2v-7.36zM1262.77 1092.33v8.37h4.2v-8.37zM1268.92 1097.82v2.88h4.2v-2.88zM1275.06 1085.99v14.71h4.2v-14.71zM1281.21 1083.25v17.45h4.2v-17.45zM1287.36 1088.87v11.83h4.2v-11.83zM1293.51 1092.33v8.37h4.2v-8.37zM1299.66 1098.82v1.88h4.2v-1.88zM1305.81 1079.79v20.91h4.2v-20.91zM1311.96 1089.88v10.82h4.2v-10.82zM1318.1 1093.34v7.36h4.2v-7.36zM1324.25 1085.99v14.71h4.2v-14.71zM1330.4 1089.88v10.82h4.2v-10.82zM1336.55 1087v13.7h4.2v-13.7zM1342.7 1067.81v32.89h4.2v-32.89zM1348.85 1088.01v12.69h4.2v-12.69zM1355 1096.95v3.75h4.2v-3.75zM1361.14 1095.22v5.48h4.2v-5.48zM1367.29 1087v13.7h4.2v-13.7zM1373.44 1096.08v4.62h4.2v-4.62zM1379.59 1092.33v8.37h4.2v-8.37zM1385.74 1092.33v8.37h4.2v-8.37zM1391.89 1080.65v20.05h4.2v-20.05zM1398.04 1088.01v12.69h4.2v-12.69zM1404.18 1089.88v10.82h4.2v-10.82zM1410.33 1096.95v3.75h4.2v-3.75zM1416.48 1088.87v11.83h4.2v-11.83zM1422.63 1085.12v15.58h4.2v-15.58zM1428.78 1076.9v23.8h4.2v-23.8zM1434.93 1092.33v8.37h4.2v-8.37zM1441.08 1085.99v14.71h4.2v-14.71zM1447.23 1091.61v9.09h4.2v-9.09zM1453.37 1061.03v39.67h4.2v-39.67zM1459.52 1040.12v60.58h4.2v-60.58zM1465.67 1092.33v8.37h4.2v-8.37zM1471.82 1095.22v5.48h4.2v-5.48zM1477.97 1095.22v5.48h4.2v-5.48zM1484.12 1095.22v5.48h4.2v-5.48zM1490.27 1094.07v6.63h4.2v-6.63zM1496.41 1091.61v9.09h4.2v-9.09zM1502.56 1093.34v7.36h4.2v-7.36zM1508.71 1091.61v9.09h4.2v-9.09zM1514.86 1095.22v5.48h4.2v-5.48zM1521.01 1093.34v7.36h4.2v-7.36zM1527.16 1088.87v11.83h4.2v-11.83zM1533.31 1088.01v12.69h4.2v-12.69zM1539.45 1093.34v7.36h4.2v-7.36zM1545.6 1081.52v19.18h4.2v-19.18zM1551.75 1096.08v4.62h4.2v-4.62zM1557.9 1094.07v6.63h4.2v-6.63zM1564.05 1085.12v15.58h4.2v-15.58zM1570.2 1072.14v28.56h4.2v-28.56zM1576.35 1061.03v39.67h4.2v-39.67zM1582.49 1096.95v3.75h4.2v-3.75zM1588.64 1096.08v4.62h4.2v-4.62zM1594.79 1096.08v4.62h4.2v-4.62zM1600.94 1088.87v11.83h4.2v-11.83zM1607.09 1088.01v12.69h4.2v-12.69zM1613.24 1085.12v15.58h4.2v-15.58zM1619.39 1094.07v6.63h4.2v-6.63zM1625.53 1095.22v5.48h4.2v-5.48zM1631.68 1098.82v1.88h4.2v-1.88zM1637.83 1085.12v15.58h4.2v-15.58zM1643.98 1062.04v38.66h4.2v-38.66zM1650.13 1096.08v4.62h4.2v-4.62zM1656.28 1082.38v18.32h4.2v-18.32zM1662.43 1095.22v5.48h4.2v-5.48zM1668.57 1090.89v9.81h4.2v-9.81zM1674.72 1091.61v9.09h4.2v-9.09zM1680.87 1092.33v8.37h4.2v-8.37zM1687.02 1097.82v2.88h4.2v-2.88zM1693.17 1093.34v7.36h4.2v-7.36zM1699.32 1096.95v3.75h4.2v-3.75zM1705.47 1042v58.7h4.2v-58.7zM1711.62 1087v13.7h4.2v-13.7zM1717.76 1092.33v8.37h4.2v-8.37zM1723.91 1098.82v1.88h4.2v-1.88zM1730.06 1098.82v1.88h4.2v-1.88zM1736.21 1097.82v2.88h4.2v-2.88zM1742.36 1098.82v1.88h4.2v-1.88zM1748.51 1098.82v1.88h4.2v-1.88zM1754.66 1096.08v4.62h4.2v-4.62zM1760.8 1097.82v2.88h4.2v-2.88zM1766.95 1097.82v2.88h4.2v-2.88zM1773.1 1098.82v1.88h4.2v-1.88zM1779.25 1094.07v6.63h4.2v-6.63zM1785.4 1090.89v9.81h4.2v-9.81zM1791.55 1097.82v2.88h4.2v-2.88zM1797.7 1096.95v3.75h4.2v-3.75zM1803.84 1088.87v11.83h4.2v-11.83zM1809.99 1092.33v8.37h4.2v-8.37zM1816.14 1095.22v5.48h4.2v-5.48zM1822.29 1084.11v16.59h4.2v-16.59zM1828.44 1083.25v17.45h4.2v-17.45zM1834.59 1088.01v12.69h4.2v-12.69zM1840.74 1095.22v5.48h4.2v-5.48zM1846.88 1097.82v2.88h4.2v-2.88zM1853.03 1089.88v10.82h4.2v-10.82zM1859.18 1065.94v34.76h4.2v-34.76zM1865.33 1078.92v21.78h4.2v-21.78zM1871.48 1090.89v9.81h4.2v-9.81zM1877.63 1088.87v11.83h4.2v-11.83zM1883.78 1077.91v22.79h4.2v-22.79zM1889.92 1097.82v2.88h4.2v-2.88zM1896.07 1091.61v9.09h4.2v-9.09zM1902.22 1083.25v17.45h4.2v-17.45zM1908.37 1067.81v32.89h4.2v-32.89zM1914.52 1091.61v9.09h4.2v-9.09zM1920.67 1090.89v9.81h4.2v-9.81zM1926.82 1097.82v2.88h4.2v-2.88zM1932.96 1088.87v11.83h4.2v-11.83zM1939.11 1083.25v17.45h4.2v-17.45zM1945.26 1096.08v4.62h4.2v-4.62zM1951.41 1094.5v6.2h4.2v-6.2zM1957.56 1097.82v2.88h4.2v-2.88zM1963.71 1095.22v5.48h4.2v-5.48zM1969.86 1073.15v27.55h4.2v-27.55zM1976 1085.12v15.58h4.2v-15.58zM1982.15 1098.82v1.88h4.2v-1.88zM1988.3 1096.08v4.62h4.2v-4.62zM1994.45 1098.82v1.88h4.2v-1.88zM2000.6 1096.95v3.75h4.2v-3.75zM2006.75 1094.07v6.63h4.2v-6.63zM2012.9 1098.82v1.88h4.2v-1.88zM2019.05 1098.82v1.88h4.2v-1.88zM2025.19 1095.22v5.48h4.2v-5.48zM2031.34 1098.82v1.88h4.2v-1.88zM2037.49 1098.82v1.88h4.2v-1.88zM2043.64 1089.88v10.82h4.2v-10.82zM2049.79 1083.25v17.45h4.2v-17.45zM2055.94 1095.22v5.48h4.2v-5.48zM2062.09 1089.88v10.82h4.2v-10.82zM2068.23 1096.95v3.75h4.2v-3.75zM2074.38 1091.61v9.09h4.2v-9.09zM2080.53 1093.34v7.36h4.2v-7.36zM2086.68 1096.08v4.62h4.2v-4.62zM2092.83 1095.22v5.48h4.2v-5.48zM2098.98 1096.08v4.62h4.2v-4.62zM2105.13 1096.08v4.62h4.2v-4.62zM2111.27 1097.82v2.88h4.2v-2.88zM2117.42 1075.03v25.67h4.2v-25.67zM2123.57 1076.9v23.8h4.2v-23.8z"/>
</g>
<rect x="19" y="483" width="2522" height="2" fill="#2a2e39"/>
<rect x="19" y="695" width="2522" height="2" fill="#2a2e39"/>
<rect x="19" y="907" width="2522" height="2" fill="#2a2e39"/>
<rect x="2424" y="19" width="2" height="1150" fill="#fff"/>
<rect x="19.1" y="1118" width="2522" height="2.1" fill="#fff"/>
<text y="54" fill="#fff" stroke="#fff" font-size="22"><tspan x="32.72" textLength="80.41" lengthAdjust="spacingAndGlyphs">BITCOIN</tspan> <tspan x="121.2">/</tspan> <tspan x="137.8" textLength="76.01" lengthAdjust="spacingAndGlyphs">TETHER</tspan> <tspan x="221.4" textLength="45.44" lengthAdjust="spacingAndGlyphs">(USD</tspan><tspan x="266.41" textLength="23.21" lengthAdjust="spacingAndGlyphs">Ⓢ</tspan><tspan x="289.8" textLength="24.89" lengthAdjust="spacingAndGlyphs">-M</tspan> <tspan x="319.18" textLength="53.78" lengthAdjust="spacingAndGlyphs">Perp)</tspan> <tspan x="378.55" textLength="223.33" lengthAdjust="spacingAndGlyphs">&lt;hyblockcapital.com&gt;,</tspan> <tspan x="608.51" textLength="31.4" lengthAdjust="spacingAndGlyphs">4h,</tspan> <tspan x="646.73" textLength="77.16" lengthAdjust="spacingAndGlyphs">Binance</tspan> <tspan x="731.38" textLength="38.69" lengthAdjust="spacingAndGlyphs">USD</tspan><tspan x="769.68" textLength="21.92" lengthAdjust="spacingAndGlyphs">Ⓢ</tspan><tspan x="792.42" textLength="24.22" lengthAdjust="spacingAndGlyphs">-M</tspan> <tspan x="821.39" textLength="44.59" lengthAdjust="spacingAndGlyphs">Perp</tspan></text>
<text y="54" fill="#fff" stroke="#fff" font-size="22"><tspan x="878.94" textLength="15.71" lengthAdjust="spacingAndGlyphs">O</tspan></text>
<text y="54" fill="#00a800" stroke="#00a800" font-size="22"><tspan x="894.6" textLength="76.8" lengthAdjust="spacingAndGlyphs">92676.9</tspan></text>
<text y="54" fill="#fff" stroke="#fff" font-size="22"><tspan x="984.69" textLength="14.76" lengthAdjust="spacingAndGlyphs">H</tspan></text>
<text y="54" fill="#00a800" stroke="#00a800" font-size="22"><tspan x="999.19" textLength="77.51" lengthAdjust="spacingAndGlyphs">94555.0</tspan></text>
<text y="54" fill="#fff" stroke="#fff" font-size="22"><tspan x="1089.69" textLength="11.33" lengthAdjust="spacingAndGlyphs">L</tspan></text>
<text y="54" fill="#00a800" stroke="#00a800" font-size="22"><tspan x="1101.09" textLength="77.78" lengthAdjust="spacingAndGlyphs">94146.8</tspan></text>
<text y="54" fill="#fff" stroke="#fff" font-size="22"><tspan x="1191.76" textLength="12.62" lengthAdjust="spacingAndGlyphs">C</tspan></text>
<text y="54" fill="#00a800" stroke="#00a800" font-size="22"><tspan x="1205.2" textLength="76.86" lengthAdjust="spacingAndGlyphs">94212.7</tspan></text>
<text y="54" fill="#00a800" stroke="#00a800" font-size="22"><tspan x="1296.09" textLength="78.43" lengthAdjust="spacingAndGlyphs">+1535.8</tspan> <tspan x="1380.41" textLength="83.17" lengthAdjust="spacingAndGlyphs">(+1.66%)</tspan></text>
<text y="521" fill="#fff" stroke="#fff" font-size="22"><tspan x="33.06" textLength="72.31" lengthAdjust="spacingAndGlyphs">Volume</tspan></text>
<text y="521" fill="#22ab94" stroke="#22ab94" font-size="22"><tspan x="118.6" textLength="67.16" lengthAdjust="spacingAndGlyphs">3.599B</tspan></text>
<text y="733" fill="#fff" stroke="#fff" font-size="22"><tspan x="33.2" textLength="100.21" lengthAdjust="spacingAndGlyphs">&lt;Hyblock&gt;</tspan><tspan x="132.83" textLength="31.92" lengthAdjust="spacingAndGlyphs">Bid</tspan> <tspan x="172.53" textLength="14.23" lengthAdjust="spacingAndGlyphs">&amp;</tspan> <tspan x="193.67" textLength="31.53" lengthAdjust="spacingAndGlyphs">Ask</tspan> <tspan x="232.81" textLength="52.17" lengthAdjust="spacingAndGlyphs">Ratio</tspan> <tspan x="293.15" textLength="42.06" lengthAdjust="spacingAndGlyphs">(0%,</tspan> <tspan x="340.89" textLength="42.5" lengthAdjust="spacingAndGlyphs">10%,</tspan> <tspan x="390.59" textLength="34.14" lengthAdjust="spacingAndGlyphs">All,</tspan> <tspan x="431.65">,</tspan> <tspan x="444.67" textLength="26.38" lengthAdjust="spacingAndGlyphs">No</tspan> <tspan x="477.43" textLength="59.72" lengthAdjust="spacingAndGlyphs">Filter,</tspan> <tspan x="543.13" textLength="19.19" lengthAdjust="spacingAndGlyphs">1,</tspan> <tspan x="570.43" textLength="27.34" lengthAdjust="spacingAndGlyphs">-1,</tspan> <tspan x="605.75">)</tspan></text>
<text y="733" fill="#ff0000" stroke="#ff0000" font-size="22"><tspan x="625.92" textLength="40.84" lengthAdjust="spacingAndGlyphs">−0.1</tspan></text>
<text y="945" fill="#fff" stroke="#fff" font-size="22"><tspan x="33.2" textLength="100.62" lengthAdjust="spacingAndGlyphs">&lt;Hyblock&gt;</tspan><tspan x="133.45" textLength="120.15" lengthAdjust="spacingAndGlyphs">Liquidations</tspan> <tspan x="260.93" textLength="55.68" lengthAdjust="spacingAndGlyphs">(Size,</tspan> <tspan x="323.35">,</tspan> <tspan x="337.05" textLength="13.16" lengthAdjust="spacingAndGlyphs">0</tspan><tspan x="352.1">,</tspan> <tspan x="362.75" textLength="14.84" lengthAdjust="spacingAndGlyphs">∞</tspan><tspan x="378.75">,</tspan> <tspan x="388.79" textLength="39.44" lengthAdjust="spacingAndGlyphs">, , ,</tspan> <tspan x="433.58" textLength="26.28" lengthAdjust="spacingAndGlyphs">No</tspan> <tspan x="466.05" textLength="58.98" lengthAdjust="spacingAndGlyphs">Filter,</tspan> <tspan x="532.35">,</tspan> <tspan x="547.65">)</tspan></text>
<text y="945" fill="#00bfff" stroke="#00bfff" font-size="22"><tspan x="567.57" textLength="90.13" lengthAdjust="spacingAndGlyphs">447.491K</tspan></text>
<text y="945" fill="#8b0000" stroke="#8b0000" font-size="22"><tspan x="670.86" textLength="71.39" lengthAdjust="spacingAndGlyphs">2.884M</tspan></text>
<text y="33" fill="#fff" stroke="#fff" font-size="20"><tspan x="2437.8" textLength="82.03" lengthAdjust="spacingAndGlyphs">120000.0</tspan></text>
<text y="86" fill="#fff" stroke="#fff" font-size="20"><tspan x="2437.78" textLength="82.02" lengthAdjust="spacingAndGlyphs">115000.0</tspan></text>
<text y="139" fill="#fff" stroke="#fff" font-size="20"><tspan x="2437.78" textLength="82.02" lengthAdjust="spacingAndGlyphs">110000.0</tspan></text>
<text y="192" fill="#fff" stroke="#fff" font-size="20"><tspan x="2437.8" textLength="82.03" lengthAdjust="spacingAndGlyphs">105000.0</tspan></text>
<text y="245" fill="#fff" stroke="#fff" font-size="20"><tspan x="2437.8" textLength="82.03" lengthAdjust="spacingAndGlyphs">100000.0</tspan></text>
<text y="298" fill="#fff" stroke="#fff" font-size="20"><tspan x="2437.5" textLength="71.7" lengthAdjust="spacingAndGlyphs">95000.0</tspan></text>
<text y="351" fill="#fff" stroke="#fff" font-size="20"><tspan x="2437.5" textLength="71.7" lengthAdjust="spacingAndGlyphs">90000.0</tspan></text>
<text y="404" fill="#fff" stroke="#fff" font-size="20"><tspan x="2437.59" textLength="71.61" lengthAdjust="spacingAndGlyphs">85000.0</tspan></text>
<text y="457" fill="#fff" stroke="#fff" font-size="20"><tspan x="2437.59" textLength="71.61" lengthAdjust="spacingAndGlyphs">80000.0</tspan></text>
<text y="561" fill="#fff" stroke="#fff" font-size="20"><tspan x="2437.63" textLength="22.67" lengthAdjust="spacingAndGlyphs">8B</tspan></text>
<text y="761" fill="#fff" stroke="#fff" font-size="20"><tspan x="2437.76" textLength="28.88" lengthAdjust="spacingAndGlyphs">0.2</tspan></text>
<text y="819" fill="#fff" stroke="#fff" font-size="20"><tspan x="2437.78" textLength="10.97" lengthAdjust="spacingAndGlyphs">0</tspan></text>
<text y="880" fill="#fff" stroke="#fff" font-size="20"><tspan x="2438.29" textLength="39.07" lengthAdjust="spacingAndGlyphs">−0.2</tspan></text>
<text y="949" fill="#fff" stroke="#fff" font-size="20"><tspan x="2437.5" textLength="36.68" lengthAdjust="spacingAndGlyphs">20M</tspan></text>
<text y="1028" fill="#fff" stroke="#fff" font-size="20"><tspan x="2438.17" textLength="36" lengthAdjust="spacingAndGlyphs">10M</tspan></text>
<text y="1150" fill="#fff" stroke="#fff" font-size="20"><tspan x="135.06" textLength="21.6" lengthAdjust="spacingAndGlyphs">17</tspan></text>
<text y="1150" fill="#fff" stroke="#fff" font-size="20"><tspan x="282.33" textLength="20.08" lengthAdjust="spacingAndGlyphs">21</tspan></text>
<text y="1150" fill="#fff" stroke="#fff" font-size="20"><tspan x="429.77" textLength="22.1" lengthAdjust="spacingAndGlyphs">25</tspan></text>
<text y="1150" fill="#fff" stroke="#fff" font-size="20" font-weight="bold"><tspan x="680.92" textLength="36.08" lengthAdjust="spacingAndGlyphs">Nov</tspan></text>
<text y="1150" fill="#fff" stroke="#fff" font-size="20"><tspan x="841.37" textLength="10.6" lengthAdjust="spacingAndGlyphs">5</tspan></text>
<text y="1150" fill="#fff" stroke="#fff" font-size="20"><tspan x="988.53" textLength="11.35" lengthAdjust="spacingAndGlyphs">9</tspan></text>
<text y="1150" fill="#fff" stroke="#fff" font-size="20"><tspan x="1131.33" textLength="21.31" lengthAdjust="spacingAndGlyphs">13</tspan></text>
<text y="1150" fill="#fff" stroke="#fff" font-size="20"><tspan x="1278.8" textLength="21.77" lengthAdjust="spacingAndGlyphs">17</tspan></text>
<text y="1150" fill="#fff" stroke="#fff" font-size="20"><tspan x="1426.08" textLength="20.08" lengthAdjust="spacingAndGlyphs">21</tspan></text>
<text y="1150" fill="#fff" stroke="#fff" font-size="20"><tspan x="1573.78" textLength="21.83" lengthAdjust="spacingAndGlyphs">25</tspan></text>
<text y="1150" fill="#fff" stroke="#fff" font-size="20" font-weight="bold"><tspan x="1788.42" textLength="35.08" lengthAdjust="spacingAndGlyphs">Dec</tspan></text>
<text y="1150" fill="#fff" stroke="#fff" font-size="20"><tspan x="1948.37" textLength="10.6" lengthAdjust="spacingAndGlyphs">5</tspan></text>
<text y="1150" fill="#fff" stroke="#fff" font-size="20"><tspan x="2095.16" textLength="11.69" lengthAdjust="spacingAndGlyphs">9</tspan></text>
<text y="1150" fill="#fff" stroke="#fff" font-size="20"><tspan x="2238.53" textLength="21.2" lengthAdjust="spacingAndGlyphs">13</tspan></text>
<text y="1150" fill="#fff" stroke="#fff" font-size="20"><tspan x="2385.71" textLength="21.66" lengthAdjust="spacingAndGlyphs">17</tspan></text>
<text y="1210" fill="#d1d4dc" stroke="#d1d4dc" font-size="23.6"><tspan x="60.55" textLength="128.86" lengthAdjust="spacingAndGlyphs">TradingView</tspan></text>
<path fill="#00aa00" d="M2424 284.6H2514.4a3.5 3.5 0 0 1 3.5 3.5V310.5a3.5 3.5 0 0 1 -3.5 3.5H2424z"/>
<path fill="#22ab94" d="M2424 615.9H2505.2a3.5 3.5 0 0 1 3.5 3.5V641.5a3.5 3.5 0 0 1 -3.5 3.5H2424z"/>
<path fill="#ff0000" d="M2424 826.6H2483.2a3.5 3.5 0 0 1 3.5 3.5V852.2a3.5 3.5 0 0 1 -3.5 3.5H2424z"/>
<path fill="#8b0000" d="M2424 1053.1H2506.9a3.5 3.5 0 0 1 3.5 3.5V1078.6a3.5 3.5 0 0 1 -3.5 3.5H2424z"/>
<path fill="#00bfff" d="M2424 1082.1H2525.4a3.5 3.5 0 0 1 3.5 3.5V1107.2a3.5 3.5 0 0 1 -3.5 3.5H2424z"/>
<text y="306" fill="#fff" stroke="#fff" font-size="20"><tspan x="2437.5" textLength="71.79" lengthAdjust="spacingAndGlyphs">94212.7</tspan></text>
<text y="638" fill="#fff" stroke="#fff" font-size="20"><tspan x="2437.95" textLength="61.62" lengthAdjust="spacingAndGlyphs">3.599B</tspan></text>
<text y="848" fill="#fff" stroke="#fff" font-size="20"><tspan x="2438.3" textLength="38.44" lengthAdjust="spacingAndGlyphs">−0.1</tspan></text>
<text y="1074" fill="#fff" stroke="#fff" font-size="20"><tspan x="2437.77" textLength="65.63" lengthAdjust="spacingAndGlyphs">2.884M</tspan></text>
<text y="1103" fill="#000" stroke="#000" font-size="20"><tspan x="2438.33" textLength="82.49" lengthAdjust="spacingAndGlyphs">447.491K</tspan></text>
<g fill="#d1d4dc" transform="translate(18.3 1187.9) scale(1.02 1)"><path d="M14 22H7V11H0V4h14v18z"/><circle cx="20" cy="8" r="4"/><path d="M28 22h-8l7.5-18h8L28 22z"/></g>
</svg>
</body>
</html>
